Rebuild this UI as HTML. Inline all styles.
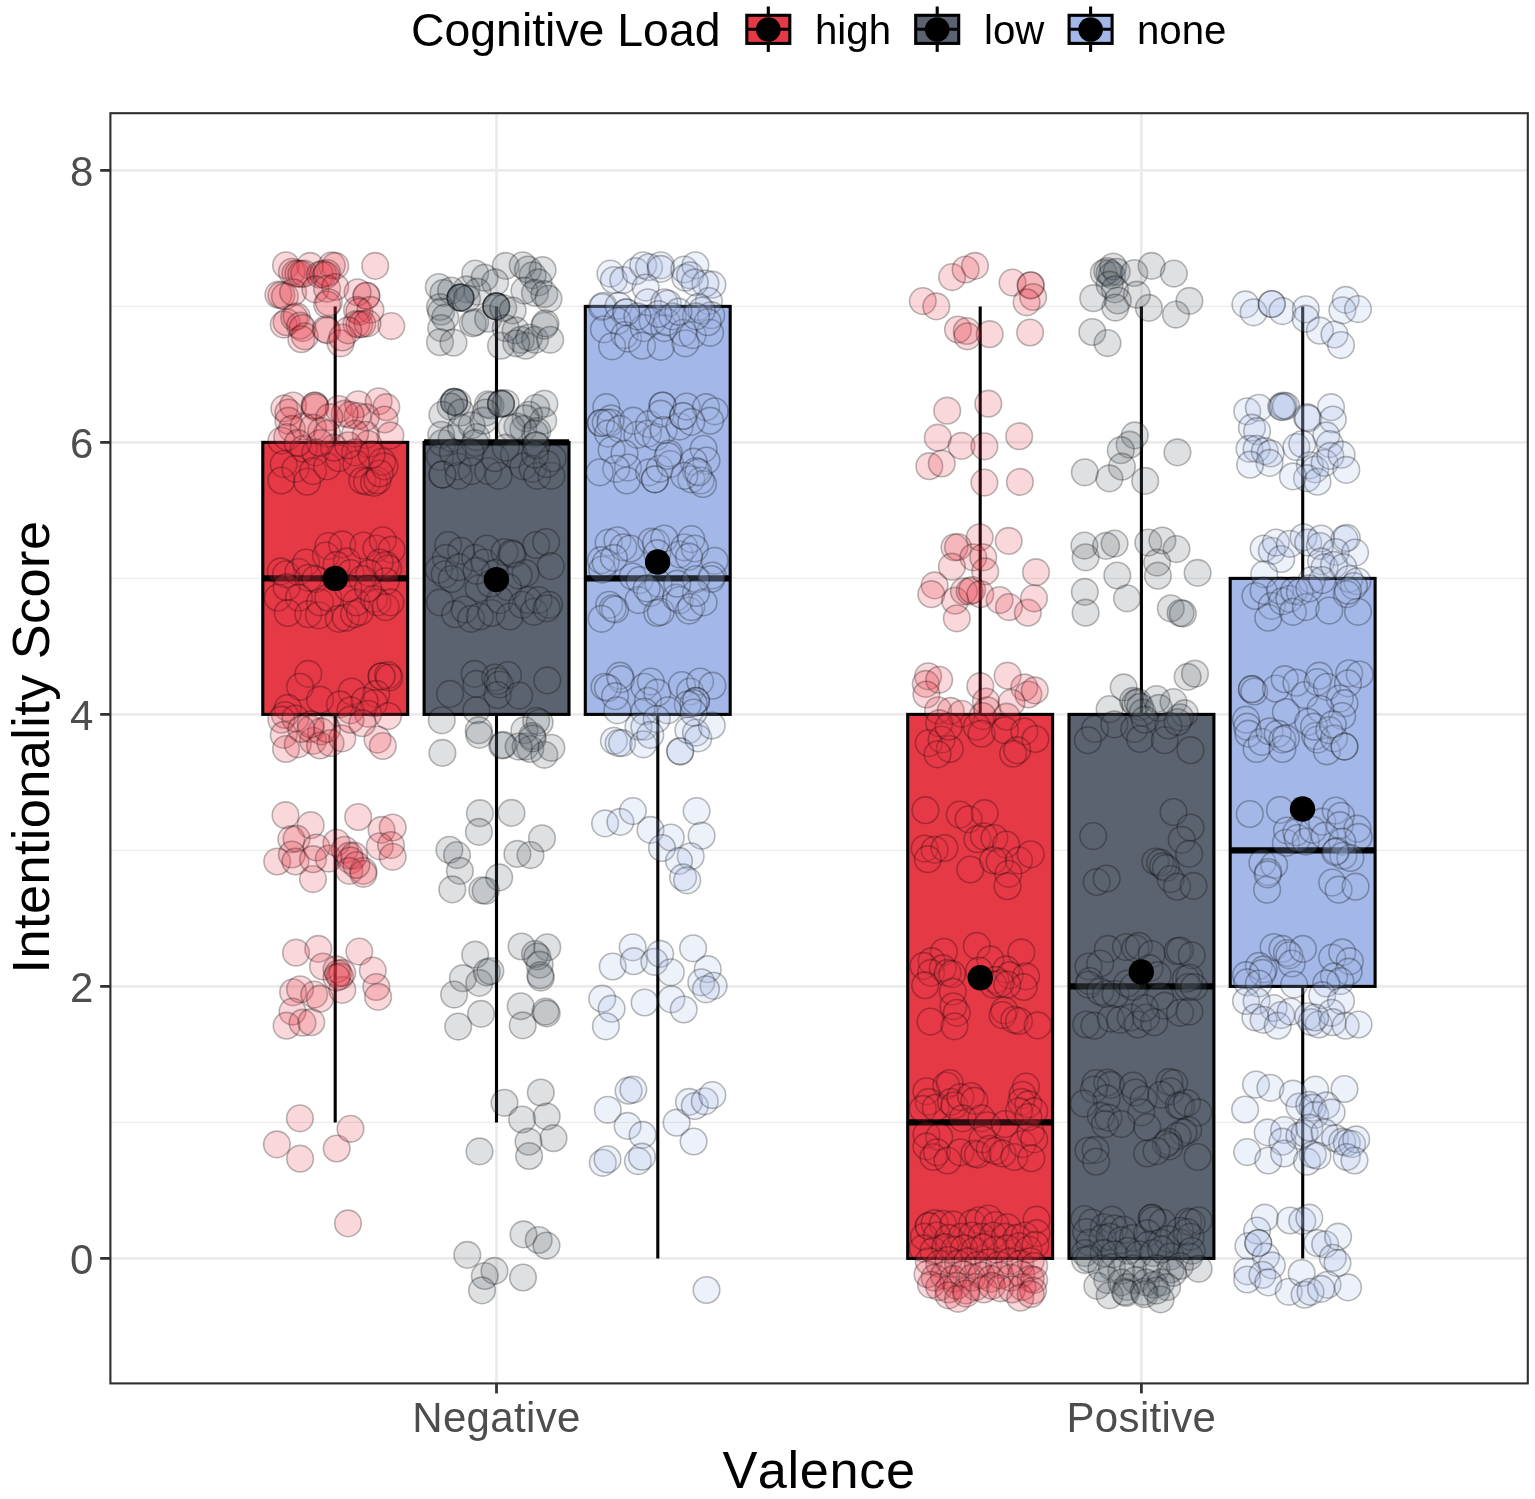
<!DOCTYPE html>
<html lang="en"><head><meta charset="utf-8"><title>Intentionality Score by Valence and Cognitive Load</title>
<style>html,body{margin:0;padding:0;background:#fff}body{width:1535px;height:1499px;overflow:hidden}svg{display:block}text{font-family:"Liberation Sans",Arial,Helvetica,sans-serif;font-kerning:none}.pt{stroke:#000;stroke-width:1.6;stroke-opacity:.27;fill-opacity:.2}.bx{stroke:#000;stroke-width:3.1;stroke-linejoin:miter}.ln{stroke:#000;stroke-width:3.1;fill:none}.md{stroke:#000;stroke-width:6.2;fill:none}.tl{font-size:42px;fill:#4D4D4D;letter-spacing:.35px}.at{font-size:52.3px;fill:#000;letter-spacing:.6px}.lt{font-size:46.4px;fill:#000}.ll{font-size:40.2px;fill:#000}</style></head><body>
<svg width="1535" height="1499" viewBox="0 0 1535 1499">
<rect x="0" y="0" width="1535" height="1499" fill="#fff"/>
<g stroke="#EBEBEB" fill="none">
<line x1="110.4" x2="1527.8" y1="1122.4" y2="1122.4" stroke-width="1.4"/>
<line x1="110.4" x2="1527.8" y1="850.4" y2="850.4" stroke-width="1.4"/>
<line x1="110.4" x2="1527.8" y1="578.4" y2="578.4" stroke-width="1.4"/>
<line x1="110.4" x2="1527.8" y1="306.4" y2="306.4" stroke-width="1.4"/>
<line x1="110.4" x2="1527.8" y1="1258.4" y2="1258.4" stroke-width="2.7"/>
<line x1="110.4" x2="1527.8" y1="986.4" y2="986.4" stroke-width="2.7"/>
<line x1="110.4" x2="1527.8" y1="714.4" y2="714.4" stroke-width="2.7"/>
<line x1="110.4" x2="1527.8" y1="442.4" y2="442.4" stroke-width="2.7"/>
<line x1="110.4" x2="1527.8" y1="170.4" y2="170.4" stroke-width="2.7"/>
<line x1="496.5" x2="496.5" y1="113.2" y2="1383.4" stroke-width="2.7"/>
<line x1="1141.4" x2="1141.4" y1="113.2" y2="1383.4" stroke-width="2.7"/>
</g>
<g>
<line class="ln" x1="335.2" x2="335.2" y1="306.4" y2="442.4"/>
<line class="ln" x1="335.2" x2="335.2" y1="714.4" y2="1122.4"/>
<rect class="bx" x="262.8" y="442.4" width="144.9" height="272.0" fill="#E63946"/>
<line class="md" x1="262.8" x2="407.7" y1="578.4" y2="578.4"/>
<line class="ln" x1="496.5" x2="496.5" y1="306.4" y2="442.4"/>
<line class="ln" x1="496.5" x2="496.5" y1="714.4" y2="1122.4"/>
<rect class="bx" x="424.1" y="442.4" width="144.9" height="272.0" fill="#5B6370"/>
<line class="md" x1="424.1" x2="569.0" y1="442.4" y2="442.4"/>
<line class="ln" x1="657.8" x2="657.8" y1="714.4" y2="1258.4"/>
<rect class="bx" x="585.3" y="306.4" width="144.9" height="408.0" fill="#A3B8E8"/>
<line class="md" x1="585.3" x2="730.2" y1="578.4" y2="578.4"/>
<line class="ln" x1="980.2" x2="980.2" y1="306.4" y2="714.4"/>
<rect class="bx" x="907.7" y="714.4" width="144.9" height="544.0" fill="#E63946"/>
<line class="md" x1="907.7" x2="1052.6" y1="1122.4" y2="1122.4"/>
<line class="ln" x1="1141.4" x2="1141.4" y1="306.4" y2="714.4"/>
<rect class="bx" x="1069.0" y="714.4" width="144.9" height="544.0" fill="#5B6370"/>
<line class="md" x1="1069.0" x2="1213.9" y1="986.4" y2="986.4"/>
<line class="ln" x1="1302.7" x2="1302.7" y1="306.4" y2="578.4"/>
<line class="ln" x1="1302.7" x2="1302.7" y1="986.4" y2="1258.4"/>
<rect class="bx" x="1230.2" y="578.4" width="144.9" height="408.0" fill="#A3B8E8"/>
<line class="md" x1="1230.2" x2="1375.1" y1="850.4" y2="850.4"/>
</g>
<g class="pt" fill="#E63946">
<circle cx="348.0" cy="1223.4" r="13.3"/>
<circle cx="299.9" cy="1118.3" r="13.3"/>
<circle cx="276.9" cy="1144.4" r="13.3"/>
<circle cx="300.1" cy="1158.7" r="13.3"/>
<circle cx="336.7" cy="1148.5" r="13.3"/>
<circle cx="350.5" cy="1128.8" r="13.3"/>
<circle cx="296.0" cy="952.7" r="13.3"/>
<circle cx="318.3" cy="948.9" r="13.3"/>
<circle cx="359.3" cy="951.6" r="13.3"/>
<circle cx="323.0" cy="966.5" r="13.3"/>
<circle cx="372.8" cy="970.6" r="13.3"/>
<circle cx="376.3" cy="987.0" r="13.3"/>
<circle cx="378.1" cy="996.9" r="13.3"/>
<circle cx="293.1" cy="992.3" r="13.3"/>
<circle cx="300.1" cy="989.3" r="13.3"/>
<circle cx="314.2" cy="994.6" r="13.3"/>
<circle cx="320.0" cy="998.7" r="13.3"/>
<circle cx="342.3" cy="989.9" r="13.3"/>
<circle cx="292.5" cy="1011.6" r="13.3"/>
<circle cx="286.6" cy="1025.7" r="13.3"/>
<circle cx="302.5" cy="1022.7" r="13.3"/>
<circle cx="311.3" cy="1022.2" r="13.3"/>
<circle cx="336.5" cy="969.4" r="13.3"/>
<circle cx="338.2" cy="973.5" r="13.3"/>
<circle cx="340.0" cy="976.4" r="13.3"/>
<circle cx="342.3" cy="972.9" r="13.3"/>
<circle cx="336.5" cy="977.6" r="13.3"/>
<circle cx="285.5" cy="815.2" r="13.3"/>
<circle cx="310.7" cy="825.2" r="13.3"/>
<circle cx="358.2" cy="817.0" r="13.3"/>
<circle cx="381.6" cy="829.9" r="13.3"/>
<circle cx="392.7" cy="827.5" r="13.3"/>
<circle cx="379.8" cy="846.3" r="13.3"/>
<circle cx="391.0" cy="845.1" r="13.3"/>
<circle cx="392.7" cy="856.8" r="13.3"/>
<circle cx="291.3" cy="839.2" r="13.3"/>
<circle cx="296.6" cy="838.7" r="13.3"/>
<circle cx="277.2" cy="861.5" r="13.3"/>
<circle cx="291.9" cy="854.5" r="13.3"/>
<circle cx="295.4" cy="861.5" r="13.3"/>
<circle cx="313.0" cy="879.1" r="13.3"/>
<circle cx="316.5" cy="847.5" r="13.3"/>
<circle cx="313.0" cy="859.2" r="13.3"/>
<circle cx="328.8" cy="858.6" r="13.3"/>
<circle cx="336.5" cy="842.8" r="13.3"/>
<circle cx="344.7" cy="849.8" r="13.3"/>
<circle cx="349.4" cy="855.7" r="13.3"/>
<circle cx="354.1" cy="855.7" r="13.3"/>
<circle cx="350.5" cy="860.4" r="13.3"/>
<circle cx="349.4" cy="870.9" r="13.3"/>
<circle cx="363.4" cy="870.9" r="13.3"/>
<circle cx="363.4" cy="873.8" r="13.3"/>
<circle cx="356.4" cy="865.0" r="13.3"/>
<circle cx="308.3" cy="673.9" r="13.3"/>
<circle cx="300.1" cy="686.8" r="13.3"/>
<circle cx="320.0" cy="699.7" r="13.3"/>
<circle cx="287.8" cy="707.9" r="13.3"/>
<circle cx="351.7" cy="691.5" r="13.3"/>
<circle cx="340.0" cy="704.4" r="13.3"/>
<circle cx="381.6" cy="676.3" r="13.3"/>
<circle cx="381.6" cy="676.3" r="13.3"/>
<circle cx="388.1" cy="675.1" r="13.3"/>
<circle cx="389.2" cy="677.5" r="13.3"/>
<circle cx="376.3" cy="693.9" r="13.3"/>
<circle cx="374.0" cy="703.2" r="13.3"/>
<circle cx="364.6" cy="700.9" r="13.3"/>
<circle cx="350.5" cy="710.3" r="13.3"/>
<circle cx="368.1" cy="713.8" r="13.3"/>
<circle cx="388.1" cy="716.1" r="13.3"/>
<circle cx="284.9" cy="715.0" r="13.3"/>
<circle cx="281.4" cy="719.7" r="13.3"/>
<circle cx="295.4" cy="718.5" r="13.3"/>
<circle cx="283.7" cy="734.9" r="13.3"/>
<circle cx="286.0" cy="749.0" r="13.3"/>
<circle cx="297.8" cy="744.3" r="13.3"/>
<circle cx="310.7" cy="729.0" r="13.3"/>
<circle cx="313.0" cy="740.8" r="13.3"/>
<circle cx="321.2" cy="731.4" r="13.3"/>
<circle cx="320.0" cy="745.5" r="13.3"/>
<circle cx="327.1" cy="729.0" r="13.3"/>
<circle cx="330.6" cy="743.1" r="13.3"/>
<circle cx="342.3" cy="738.4" r="13.3"/>
<circle cx="350.5" cy="719.7" r="13.3"/>
<circle cx="362.3" cy="723.2" r="13.3"/>
<circle cx="377.5" cy="739.6" r="13.3"/>
<circle cx="382.8" cy="746.0" r="13.3"/>
<circle cx="310.7" cy="724.4" r="13.3"/>
<circle cx="301.3" cy="729.0" r="13.3"/>
<circle cx="280.8" cy="571.4" r="13.3"/>
<circle cx="286.0" cy="574.3" r="13.3"/>
<circle cx="298.4" cy="571.9" r="13.3"/>
<circle cx="306.0" cy="562.6" r="13.3"/>
<circle cx="308.3" cy="577.8" r="13.3"/>
<circle cx="315.4" cy="579.0" r="13.3"/>
<circle cx="328.3" cy="546.1" r="13.3"/>
<circle cx="325.9" cy="555.5" r="13.3"/>
<circle cx="342.3" cy="544.4" r="13.3"/>
<circle cx="347.0" cy="561.4" r="13.3"/>
<circle cx="336.5" cy="564.9" r="13.3"/>
<circle cx="350.5" cy="573.1" r="13.3"/>
<circle cx="363.4" cy="545.6" r="13.3"/>
<circle cx="376.3" cy="548.5" r="13.3"/>
<circle cx="382.8" cy="540.3" r="13.3"/>
<circle cx="391.6" cy="549.7" r="13.3"/>
<circle cx="385.7" cy="564.9" r="13.3"/>
<circle cx="388.1" cy="568.4" r="13.3"/>
<circle cx="379.8" cy="562.6" r="13.3"/>
<circle cx="385.7" cy="581.3" r="13.3"/>
<circle cx="369.3" cy="573.1" r="13.3"/>
<circle cx="362.3" cy="579.0" r="13.3"/>
<circle cx="277.8" cy="597.7" r="13.3"/>
<circle cx="286.6" cy="587.2" r="13.3"/>
<circle cx="298.9" cy="597.7" r="13.3"/>
<circle cx="287.8" cy="613.0" r="13.3"/>
<circle cx="308.3" cy="614.2" r="13.3"/>
<circle cx="318.9" cy="615.3" r="13.3"/>
<circle cx="320.0" cy="602.4" r="13.3"/>
<circle cx="328.3" cy="597.7" r="13.3"/>
<circle cx="338.8" cy="618.8" r="13.3"/>
<circle cx="345.8" cy="617.7" r="13.3"/>
<circle cx="354.1" cy="614.2" r="13.3"/>
<circle cx="359.9" cy="611.8" r="13.3"/>
<circle cx="356.4" cy="602.4" r="13.3"/>
<circle cx="374.0" cy="598.9" r="13.3"/>
<circle cx="377.5" cy="602.4" r="13.3"/>
<circle cx="385.7" cy="607.1" r="13.3"/>
<circle cx="390.4" cy="602.4" r="13.3"/>
<circle cx="348.2" cy="588.4" r="13.3"/>
<circle cx="368.1" cy="588.4" r="13.3"/>
<circle cx="284.3" cy="408.4" r="13.3"/>
<circle cx="293.1" cy="405.5" r="13.3"/>
<circle cx="288.4" cy="412.5" r="13.3"/>
<circle cx="314.8" cy="405.5" r="13.3"/>
<circle cx="314.8" cy="405.5" r="13.3"/>
<circle cx="315.4" cy="407.2" r="13.3"/>
<circle cx="338.8" cy="409.0" r="13.3"/>
<circle cx="358.2" cy="404.3" r="13.3"/>
<circle cx="378.7" cy="401.3" r="13.3"/>
<circle cx="386.3" cy="407.2" r="13.3"/>
<circle cx="384.5" cy="419.5" r="13.3"/>
<circle cx="390.4" cy="435.4" r="13.3"/>
<circle cx="365.8" cy="417.2" r="13.3"/>
<circle cx="357.6" cy="416.0" r="13.3"/>
<circle cx="350.5" cy="414.8" r="13.3"/>
<circle cx="344.7" cy="413.7" r="13.3"/>
<circle cx="288.4" cy="420.7" r="13.3"/>
<circle cx="291.9" cy="428.9" r="13.3"/>
<circle cx="281.4" cy="440.6" r="13.3"/>
<circle cx="287.2" cy="437.1" r="13.3"/>
<circle cx="303.6" cy="426.6" r="13.3"/>
<circle cx="313.0" cy="427.7" r="13.3"/>
<circle cx="321.2" cy="431.2" r="13.3"/>
<circle cx="329.4" cy="417.2" r="13.3"/>
<circle cx="327.1" cy="433.6" r="13.3"/>
<circle cx="365.8" cy="434.8" r="13.3"/>
<circle cx="368.1" cy="444.1" r="13.3"/>
<circle cx="355.2" cy="433.6" r="13.3"/>
<circle cx="283.7" cy="464.1" r="13.3"/>
<circle cx="281.4" cy="480.5" r="13.3"/>
<circle cx="295.4" cy="468.8" r="13.3"/>
<circle cx="303.6" cy="448.8" r="13.3"/>
<circle cx="315.4" cy="452.4" r="13.3"/>
<circle cx="307.1" cy="481.7" r="13.3"/>
<circle cx="313.0" cy="471.1" r="13.3"/>
<circle cx="327.1" cy="466.4" r="13.3"/>
<circle cx="338.8" cy="458.2" r="13.3"/>
<circle cx="334.1" cy="447.7" r="13.3"/>
<circle cx="355.2" cy="452.4" r="13.3"/>
<circle cx="356.4" cy="464.1" r="13.3"/>
<circle cx="362.3" cy="480.5" r="13.3"/>
<circle cx="367.0" cy="481.7" r="13.3"/>
<circle cx="374.0" cy="482.8" r="13.3"/>
<circle cx="377.5" cy="480.5" r="13.3"/>
<circle cx="382.2" cy="461.7" r="13.3"/>
<circle cx="384.5" cy="466.4" r="13.3"/>
<circle cx="379.8" cy="473.5" r="13.3"/>
<circle cx="371.6" cy="454.7" r="13.3"/>
<circle cx="348.2" cy="445.3" r="13.3"/>
<circle cx="320.0" cy="443.0" r="13.3"/>
<circle cx="297.8" cy="443.0" r="13.3"/>
<circle cx="375.2" cy="265.9" r="13.3"/>
<circle cx="391.3" cy="326.1" r="13.3"/>
<circle cx="366.4" cy="295.8" r="13.3"/>
<circle cx="366.4" cy="295.8" r="13.3"/>
<circle cx="286.0" cy="265.3" r="13.3"/>
<circle cx="310.1" cy="265.9" r="13.3"/>
<circle cx="331.8" cy="265.3" r="13.3"/>
<circle cx="335.3" cy="265.9" r="13.3"/>
<circle cx="291.9" cy="271.8" r="13.3"/>
<circle cx="295.4" cy="273.6" r="13.3"/>
<circle cx="298.4" cy="273.6" r="13.3"/>
<circle cx="301.3" cy="274.1" r="13.3"/>
<circle cx="304.2" cy="273.6" r="13.3"/>
<circle cx="320.0" cy="274.7" r="13.3"/>
<circle cx="323.0" cy="274.1" r="13.3"/>
<circle cx="325.9" cy="275.3" r="13.3"/>
<circle cx="327.1" cy="273.0" r="13.3"/>
<circle cx="278.4" cy="294.7" r="13.3"/>
<circle cx="281.4" cy="295.2" r="13.3"/>
<circle cx="284.9" cy="296.4" r="13.3"/>
<circle cx="293.1" cy="292.3" r="13.3"/>
<circle cx="315.4" cy="289.4" r="13.3"/>
<circle cx="327.1" cy="288.8" r="13.3"/>
<circle cx="335.3" cy="287.0" r="13.3"/>
<circle cx="357.6" cy="292.3" r="13.3"/>
<circle cx="327.1" cy="304.6" r="13.3"/>
<circle cx="328.8" cy="302.3" r="13.3"/>
<circle cx="357.0" cy="309.9" r="13.3"/>
<circle cx="359.3" cy="311.7" r="13.3"/>
<circle cx="370.5" cy="309.9" r="13.3"/>
<circle cx="356.4" cy="324.0" r="13.3"/>
<circle cx="359.3" cy="324.6" r="13.3"/>
<circle cx="362.3" cy="324.0" r="13.3"/>
<circle cx="367.5" cy="323.4" r="13.3"/>
<circle cx="283.7" cy="324.6" r="13.3"/>
<circle cx="286.6" cy="322.2" r="13.3"/>
<circle cx="294.2" cy="317.5" r="13.3"/>
<circle cx="296.6" cy="316.4" r="13.3"/>
<circle cx="300.1" cy="325.7" r="13.3"/>
<circle cx="302.5" cy="328.1" r="13.3"/>
<circle cx="301.3" cy="339.2" r="13.3"/>
<circle cx="304.8" cy="336.3" r="13.3"/>
<circle cx="325.9" cy="329.3" r="13.3"/>
<circle cx="327.1" cy="330.4" r="13.3"/>
<circle cx="340.6" cy="343.3" r="13.3"/>
<circle cx="342.3" cy="337.5" r="13.3"/>
<circle cx="348.2" cy="330.4" r="13.3"/>
<circle cx="928.7" cy="1226.1" r="13.3"/>
<circle cx="928.7" cy="1226.1" r="13.3"/>
<circle cx="934.6" cy="1223.2" r="13.3"/>
<circle cx="942.8" cy="1223.8" r="13.3"/>
<circle cx="953.3" cy="1224.4" r="13.3"/>
<circle cx="972.1" cy="1223.2" r="13.3"/>
<circle cx="979.1" cy="1220.3" r="13.3"/>
<circle cx="988.5" cy="1218.5" r="13.3"/>
<circle cx="995.5" cy="1225.0" r="13.3"/>
<circle cx="1007.3" cy="1227.3" r="13.3"/>
<circle cx="1036.6" cy="1219.7" r="13.3"/>
<circle cx="924.0" cy="1236.7" r="13.3"/>
<circle cx="936.9" cy="1235.5" r="13.3"/>
<circle cx="948.6" cy="1237.9" r="13.3"/>
<circle cx="961.5" cy="1236.7" r="13.3"/>
<circle cx="972.1" cy="1235.5" r="13.3"/>
<circle cx="981.5" cy="1236.7" r="13.3"/>
<circle cx="993.2" cy="1235.5" r="13.3"/>
<circle cx="1004.9" cy="1236.7" r="13.3"/>
<circle cx="1016.6" cy="1237.9" r="13.3"/>
<circle cx="1024.8" cy="1235.5" r="13.3"/>
<circle cx="1036.6" cy="1233.2" r="13.3"/>
<circle cx="922.8" cy="1248.4" r="13.3"/>
<circle cx="933.4" cy="1250.8" r="13.3"/>
<circle cx="945.1" cy="1247.2" r="13.3"/>
<circle cx="954.5" cy="1249.6" r="13.3"/>
<circle cx="963.9" cy="1248.4" r="13.3"/>
<circle cx="974.4" cy="1250.8" r="13.3"/>
<circle cx="983.8" cy="1247.2" r="13.3"/>
<circle cx="995.5" cy="1249.6" r="13.3"/>
<circle cx="1007.3" cy="1248.4" r="13.3"/>
<circle cx="1019.0" cy="1246.1" r="13.3"/>
<circle cx="1028.4" cy="1249.6" r="13.3"/>
<circle cx="1035.4" cy="1244.9" r="13.3"/>
<circle cx="928.7" cy="1261.3" r="13.3"/>
<circle cx="939.2" cy="1263.7" r="13.3"/>
<circle cx="948.6" cy="1260.1" r="13.3"/>
<circle cx="958.0" cy="1263.7" r="13.3"/>
<circle cx="967.4" cy="1261.3" r="13.3"/>
<circle cx="977.9" cy="1264.8" r="13.3"/>
<circle cx="988.5" cy="1262.5" r="13.3"/>
<circle cx="999.1" cy="1264.8" r="13.3"/>
<circle cx="1009.6" cy="1261.3" r="13.3"/>
<circle cx="1020.2" cy="1263.7" r="13.3"/>
<circle cx="1030.7" cy="1261.3" r="13.3"/>
<circle cx="1034.2" cy="1266.0" r="13.3"/>
<circle cx="927.5" cy="1274.2" r="13.3"/>
<circle cx="934.6" cy="1277.7" r="13.3"/>
<circle cx="943.9" cy="1275.4" r="13.3"/>
<circle cx="953.3" cy="1278.9" r="13.3"/>
<circle cx="962.7" cy="1274.2" r="13.3"/>
<circle cx="972.1" cy="1277.7" r="13.3"/>
<circle cx="981.5" cy="1275.4" r="13.3"/>
<circle cx="990.8" cy="1278.9" r="13.3"/>
<circle cx="1000.2" cy="1275.4" r="13.3"/>
<circle cx="1010.8" cy="1277.7" r="13.3"/>
<circle cx="1021.3" cy="1274.2" r="13.3"/>
<circle cx="1030.7" cy="1278.9" r="13.3"/>
<circle cx="1034.2" cy="1280.1" r="13.3"/>
<circle cx="931.0" cy="1284.8" r="13.3"/>
<circle cx="939.2" cy="1287.1" r="13.3"/>
<circle cx="948.6" cy="1289.5" r="13.3"/>
<circle cx="956.8" cy="1285.9" r="13.3"/>
<circle cx="966.2" cy="1290.6" r="13.3"/>
<circle cx="975.6" cy="1287.1" r="13.3"/>
<circle cx="983.8" cy="1289.5" r="13.3"/>
<circle cx="992.0" cy="1285.9" r="13.3"/>
<circle cx="1000.2" cy="1288.3" r="13.3"/>
<circle cx="1012.0" cy="1289.5" r="13.3"/>
<circle cx="1022.5" cy="1287.1" r="13.3"/>
<circle cx="1033.1" cy="1290.6" r="13.3"/>
<circle cx="948.6" cy="1295.3" r="13.3"/>
<circle cx="958.0" cy="1298.8" r="13.3"/>
<circle cx="966.2" cy="1293.6" r="13.3"/>
<circle cx="1020.2" cy="1297.7" r="13.3"/>
<circle cx="1030.7" cy="1294.2" r="13.3"/>
<circle cx="926.4" cy="1091.3" r="13.3"/>
<circle cx="946.3" cy="1085.5" r="13.3"/>
<circle cx="949.8" cy="1083.1" r="13.3"/>
<circle cx="928.7" cy="1101.9" r="13.3"/>
<circle cx="922.8" cy="1108.9" r="13.3"/>
<circle cx="935.7" cy="1107.7" r="13.3"/>
<circle cx="951.0" cy="1101.9" r="13.3"/>
<circle cx="954.5" cy="1105.4" r="13.3"/>
<circle cx="960.4" cy="1097.2" r="13.3"/>
<circle cx="970.9" cy="1096.0" r="13.3"/>
<circle cx="974.4" cy="1100.7" r="13.3"/>
<circle cx="962.7" cy="1118.3" r="13.3"/>
<circle cx="981.5" cy="1118.3" r="13.3"/>
<circle cx="987.3" cy="1125.3" r="13.3"/>
<circle cx="926.4" cy="1134.7" r="13.3"/>
<circle cx="939.2" cy="1137.0" r="13.3"/>
<circle cx="926.4" cy="1146.4" r="13.3"/>
<circle cx="933.4" cy="1157.0" r="13.3"/>
<circle cx="936.9" cy="1152.3" r="13.3"/>
<circle cx="947.5" cy="1160.5" r="13.3"/>
<circle cx="960.4" cy="1152.3" r="13.3"/>
<circle cx="974.4" cy="1153.5" r="13.3"/>
<circle cx="977.9" cy="1154.6" r="13.3"/>
<circle cx="982.6" cy="1139.4" r="13.3"/>
<circle cx="989.7" cy="1148.8" r="13.3"/>
<circle cx="995.5" cy="1151.1" r="13.3"/>
<circle cx="1004.9" cy="1124.1" r="13.3"/>
<circle cx="1002.6" cy="1153.5" r="13.3"/>
<circle cx="1014.3" cy="1157.0" r="13.3"/>
<circle cx="1022.5" cy="1144.1" r="13.3"/>
<circle cx="1030.7" cy="1132.4" r="13.3"/>
<circle cx="1034.2" cy="1139.4" r="13.3"/>
<circle cx="1031.3" cy="1158.2" r="13.3"/>
<circle cx="1026.0" cy="1086.6" r="13.3"/>
<circle cx="1022.5" cy="1094.8" r="13.3"/>
<circle cx="1021.3" cy="1101.9" r="13.3"/>
<circle cx="1028.4" cy="1104.2" r="13.3"/>
<circle cx="1034.2" cy="1111.2" r="13.3"/>
<circle cx="1019.0" cy="1111.2" r="13.3"/>
<circle cx="1028.4" cy="1117.1" r="13.3"/>
<circle cx="943.9" cy="951.8" r="13.3"/>
<circle cx="931.6" cy="961.2" r="13.3"/>
<circle cx="923.4" cy="965.9" r="13.3"/>
<circle cx="931.0" cy="972.9" r="13.3"/>
<circle cx="942.8" cy="968.2" r="13.3"/>
<circle cx="947.5" cy="972.9" r="13.3"/>
<circle cx="952.1" cy="974.1" r="13.3"/>
<circle cx="925.2" cy="985.2" r="13.3"/>
<circle cx="952.7" cy="991.7" r="13.3"/>
<circle cx="976.8" cy="945.9" r="13.3"/>
<circle cx="990.3" cy="959.4" r="13.3"/>
<circle cx="979.1" cy="970.6" r="13.3"/>
<circle cx="1021.3" cy="952.4" r="13.3"/>
<circle cx="1006.1" cy="969.4" r="13.3"/>
<circle cx="1009.6" cy="975.2" r="13.3"/>
<circle cx="1026.0" cy="976.4" r="13.3"/>
<circle cx="1023.7" cy="987.0" r="13.3"/>
<circle cx="995.5" cy="979.9" r="13.3"/>
<circle cx="993.2" cy="984.6" r="13.3"/>
<circle cx="1000.2" cy="983.5" r="13.3"/>
<circle cx="1007.3" cy="984.6" r="13.3"/>
<circle cx="953.3" cy="1006.3" r="13.3"/>
<circle cx="956.8" cy="1012.8" r="13.3"/>
<circle cx="930.5" cy="1021.6" r="13.3"/>
<circle cx="954.5" cy="1026.3" r="13.3"/>
<circle cx="1004.3" cy="1010.4" r="13.3"/>
<circle cx="1002.6" cy="1015.1" r="13.3"/>
<circle cx="1014.3" cy="1019.8" r="13.3"/>
<circle cx="1019.0" cy="1021.0" r="13.3"/>
<circle cx="1037.7" cy="1025.4" r="13.3"/>
<circle cx="925.4" cy="810.2" r="13.3"/>
<circle cx="959.8" cy="814.6" r="13.3"/>
<circle cx="968.6" cy="819.3" r="13.3"/>
<circle cx="984.7" cy="813.2" r="13.3"/>
<circle cx="977.4" cy="839.2" r="13.3"/>
<circle cx="983.8" cy="836.3" r="13.3"/>
<circle cx="994.4" cy="838.1" r="13.3"/>
<circle cx="1006.1" cy="844.5" r="13.3"/>
<circle cx="924.6" cy="848.6" r="13.3"/>
<circle cx="934.6" cy="849.8" r="13.3"/>
<circle cx="944.5" cy="848.0" r="13.3"/>
<circle cx="927.8" cy="859.2" r="13.3"/>
<circle cx="970.3" cy="869.5" r="13.3"/>
<circle cx="993.2" cy="860.4" r="13.3"/>
<circle cx="999.6" cy="861.5" r="13.3"/>
<circle cx="1019.0" cy="860.4" r="13.3"/>
<circle cx="1030.7" cy="854.3" r="13.3"/>
<circle cx="1008.4" cy="873.8" r="13.3"/>
<circle cx="1007.5" cy="886.2" r="13.3"/>
<circle cx="928.1" cy="676.3" r="13.3"/>
<circle cx="925.8" cy="683.9" r="13.3"/>
<circle cx="939.2" cy="679.8" r="13.3"/>
<circle cx="926.4" cy="694.5" r="13.3"/>
<circle cx="980.3" cy="686.2" r="13.3"/>
<circle cx="1007.6" cy="675.7" r="13.3"/>
<circle cx="1024.3" cy="687.4" r="13.3"/>
<circle cx="1028.4" cy="694.5" r="13.3"/>
<circle cx="1034.8" cy="690.4" r="13.3"/>
<circle cx="985.9" cy="701.5" r="13.3"/>
<circle cx="1011.4" cy="702.7" r="13.3"/>
<circle cx="938.1" cy="710.3" r="13.3"/>
<circle cx="950.7" cy="710.9" r="13.3"/>
<circle cx="961.5" cy="713.8" r="13.3"/>
<circle cx="987.3" cy="710.3" r="13.3"/>
<circle cx="1006.7" cy="716.7" r="13.3"/>
<circle cx="982.6" cy="716.1" r="13.3"/>
<circle cx="939.2" cy="723.2" r="13.3"/>
<circle cx="928.7" cy="743.1" r="13.3"/>
<circle cx="941.6" cy="739.6" r="13.3"/>
<circle cx="949.8" cy="749.0" r="13.3"/>
<circle cx="937.5" cy="754.3" r="13.3"/>
<circle cx="948.6" cy="726.7" r="13.3"/>
<circle cx="976.8" cy="726.7" r="13.3"/>
<circle cx="981.5" cy="733.7" r="13.3"/>
<circle cx="1004.9" cy="730.2" r="13.3"/>
<circle cx="1024.3" cy="731.4" r="13.3"/>
<circle cx="1035.4" cy="739.0" r="13.3"/>
<circle cx="1013.1" cy="753.7" r="13.3"/>
<circle cx="1017.2" cy="750.2" r="13.3"/>
<circle cx="979.7" cy="537.3" r="13.3"/>
<circle cx="1008.7" cy="540.9" r="13.3"/>
<circle cx="954.5" cy="547.3" r="13.3"/>
<circle cx="958.0" cy="547.1" r="13.3"/>
<circle cx="973.3" cy="557.3" r="13.3"/>
<circle cx="983.2" cy="557.3" r="13.3"/>
<circle cx="951.9" cy="566.7" r="13.3"/>
<circle cx="985.2" cy="571.4" r="13.3"/>
<circle cx="1036.0" cy="572.2" r="13.3"/>
<circle cx="934.6" cy="585.4" r="13.3"/>
<circle cx="931.3" cy="594.2" r="13.3"/>
<circle cx="955.1" cy="600.7" r="13.3"/>
<circle cx="963.9" cy="591.3" r="13.3"/>
<circle cx="969.7" cy="591.3" r="13.3"/>
<circle cx="972.1" cy="590.1" r="13.3"/>
<circle cx="980.3" cy="594.2" r="13.3"/>
<circle cx="999.6" cy="600.1" r="13.3"/>
<circle cx="1009.0" cy="607.1" r="13.3"/>
<circle cx="956.8" cy="618.3" r="13.3"/>
<circle cx="1027.8" cy="612.7" r="13.3"/>
<circle cx="1034.0" cy="598.3" r="13.3"/>
<circle cx="947.2" cy="410.7" r="13.3"/>
<circle cx="988.3" cy="403.7" r="13.3"/>
<circle cx="937.8" cy="437.7" r="13.3"/>
<circle cx="961.5" cy="445.9" r="13.3"/>
<circle cx="984.4" cy="446.3" r="13.3"/>
<circle cx="1019.2" cy="436.2" r="13.3"/>
<circle cx="929.3" cy="466.2" r="13.3"/>
<circle cx="941.8" cy="463.5" r="13.3"/>
<circle cx="984.4" cy="482.6" r="13.3"/>
<circle cx="1019.9" cy="481.9" r="13.3"/>
<circle cx="952.1" cy="277.1" r="13.3"/>
<circle cx="965.6" cy="269.5" r="13.3"/>
<circle cx="975.0" cy="265.9" r="13.3"/>
<circle cx="922.8" cy="301.1" r="13.3"/>
<circle cx="936.3" cy="306.4" r="13.3"/>
<circle cx="1012.5" cy="282.6" r="13.3"/>
<circle cx="1030.7" cy="285.3" r="13.3"/>
<circle cx="1030.7" cy="285.3" r="13.3"/>
<circle cx="1033.1" cy="297.0" r="13.3"/>
<circle cx="1026.6" cy="302.3" r="13.3"/>
<circle cx="958.0" cy="329.5" r="13.3"/>
<circle cx="966.8" cy="331.0" r="13.3"/>
<circle cx="967.4" cy="336.3" r="13.3"/>
<circle cx="989.7" cy="334.2" r="13.3"/>
<circle cx="1030.1" cy="332.5" r="13.3"/>
</g>
<g class="pt" fill="#5B6370">
<circle cx="467.3" cy="1254.9" r="13.3"/>
<circle cx="484.8" cy="1276.0" r="13.3"/>
<circle cx="494.5" cy="1270.9" r="13.3"/>
<circle cx="482.0" cy="1290.4" r="13.3"/>
<circle cx="523.5" cy="1234.4" r="13.3"/>
<circle cx="538.7" cy="1240.0" r="13.3"/>
<circle cx="546.5" cy="1245.6" r="13.3"/>
<circle cx="523.0" cy="1277.5" r="13.3"/>
<circle cx="504.5" cy="1102.8" r="13.3"/>
<circle cx="540.8" cy="1092.5" r="13.3"/>
<circle cx="522.1" cy="1119.5" r="13.3"/>
<circle cx="546.7" cy="1116.5" r="13.3"/>
<circle cx="528.5" cy="1141.7" r="13.3"/>
<circle cx="553.5" cy="1138.2" r="13.3"/>
<circle cx="529.1" cy="1156.0" r="13.3"/>
<circle cx="479.5" cy="1151.4" r="13.3"/>
<circle cx="475.2" cy="954.7" r="13.3"/>
<circle cx="462.9" cy="978.2" r="13.3"/>
<circle cx="454.1" cy="994.6" r="13.3"/>
<circle cx="479.3" cy="982.9" r="13.3"/>
<circle cx="486.9" cy="972.3" r="13.3"/>
<circle cx="490.4" cy="971.1" r="13.3"/>
<circle cx="481.0" cy="1013.9" r="13.3"/>
<circle cx="458.2" cy="1026.6" r="13.3"/>
<circle cx="521.5" cy="946.5" r="13.3"/>
<circle cx="547.3" cy="947.3" r="13.3"/>
<circle cx="535.0" cy="954.1" r="13.3"/>
<circle cx="537.3" cy="956.5" r="13.3"/>
<circle cx="539.7" cy="964.7" r="13.3"/>
<circle cx="540.8" cy="977.6" r="13.3"/>
<circle cx="540.3" cy="975.2" r="13.3"/>
<circle cx="520.7" cy="1006.3" r="13.3"/>
<circle cx="522.7" cy="1025.4" r="13.3"/>
<circle cx="545.5" cy="1011.6" r="13.3"/>
<circle cx="546.7" cy="1013.4" r="13.3"/>
<circle cx="479.9" cy="813.2" r="13.3"/>
<circle cx="511.5" cy="812.9" r="13.3"/>
<circle cx="478.9" cy="831.9" r="13.3"/>
<circle cx="542.0" cy="838.3" r="13.3"/>
<circle cx="517.4" cy="853.9" r="13.3"/>
<circle cx="530.5" cy="855.1" r="13.3"/>
<circle cx="449.4" cy="849.8" r="13.3"/>
<circle cx="457.0" cy="855.1" r="13.3"/>
<circle cx="459.9" cy="870.9" r="13.3"/>
<circle cx="452.3" cy="889.4" r="13.3"/>
<circle cx="499.2" cy="877.4" r="13.3"/>
<circle cx="482.2" cy="890.3" r="13.3"/>
<circle cx="485.7" cy="890.8" r="13.3"/>
<circle cx="474.6" cy="673.9" r="13.3"/>
<circle cx="476.4" cy="683.9" r="13.3"/>
<circle cx="495.1" cy="677.5" r="13.3"/>
<circle cx="497.5" cy="681.0" r="13.3"/>
<circle cx="499.8" cy="684.5" r="13.3"/>
<circle cx="508.0" cy="675.1" r="13.3"/>
<circle cx="497.5" cy="695.0" r="13.3"/>
<circle cx="519.2" cy="695.6" r="13.3"/>
<circle cx="547.3" cy="680.4" r="13.3"/>
<circle cx="450.0" cy="693.9" r="13.3"/>
<circle cx="476.4" cy="710.3" r="13.3"/>
<circle cx="441.8" cy="720.3" r="13.3"/>
<circle cx="442.4" cy="752.9" r="13.3"/>
<circle cx="478.7" cy="730.2" r="13.3"/>
<circle cx="479.3" cy="734.9" r="13.3"/>
<circle cx="502.2" cy="745.5" r="13.3"/>
<circle cx="503.3" cy="744.9" r="13.3"/>
<circle cx="524.4" cy="730.2" r="13.3"/>
<circle cx="536.2" cy="720.8" r="13.3"/>
<circle cx="539.7" cy="722.6" r="13.3"/>
<circle cx="532.1" cy="736.1" r="13.3"/>
<circle cx="525.6" cy="746.6" r="13.3"/>
<circle cx="530.3" cy="749.0" r="13.3"/>
<circle cx="544.4" cy="754.8" r="13.3"/>
<circle cx="551.4" cy="747.8" r="13.3"/>
<circle cx="532.6" cy="738.4" r="13.3"/>
<circle cx="518.6" cy="746.6" r="13.3"/>
<circle cx="448.2" cy="545.0" r="13.3"/>
<circle cx="461.1" cy="550.8" r="13.3"/>
<circle cx="445.9" cy="557.9" r="13.3"/>
<circle cx="438.8" cy="569.6" r="13.3"/>
<circle cx="444.7" cy="574.3" r="13.3"/>
<circle cx="451.7" cy="579.0" r="13.3"/>
<circle cx="458.8" cy="567.2" r="13.3"/>
<circle cx="475.2" cy="557.9" r="13.3"/>
<circle cx="486.9" cy="548.5" r="13.3"/>
<circle cx="484.6" cy="562.6" r="13.3"/>
<circle cx="504.5" cy="552.0" r="13.3"/>
<circle cx="512.7" cy="554.4" r="13.3"/>
<circle cx="511.5" cy="553.2" r="13.3"/>
<circle cx="536.2" cy="545.0" r="13.3"/>
<circle cx="546.1" cy="542.0" r="13.3"/>
<circle cx="550.8" cy="566.1" r="13.3"/>
<circle cx="525.6" cy="573.1" r="13.3"/>
<circle cx="518.6" cy="575.5" r="13.3"/>
<circle cx="508.0" cy="587.2" r="13.3"/>
<circle cx="495.1" cy="573.1" r="13.3"/>
<circle cx="440.0" cy="602.4" r="13.3"/>
<circle cx="455.2" cy="614.2" r="13.3"/>
<circle cx="464.6" cy="609.5" r="13.3"/>
<circle cx="471.1" cy="618.8" r="13.3"/>
<circle cx="479.9" cy="616.5" r="13.3"/>
<circle cx="491.6" cy="613.0" r="13.3"/>
<circle cx="478.7" cy="588.4" r="13.3"/>
<circle cx="499.8" cy="600.1" r="13.3"/>
<circle cx="509.8" cy="616.5" r="13.3"/>
<circle cx="522.1" cy="604.8" r="13.3"/>
<circle cx="528.0" cy="600.1" r="13.3"/>
<circle cx="533.8" cy="611.8" r="13.3"/>
<circle cx="538.5" cy="600.1" r="13.3"/>
<circle cx="549.1" cy="604.8" r="13.3"/>
<circle cx="546.7" cy="608.3" r="13.3"/>
<circle cx="490.4" cy="583.7" r="13.3"/>
<circle cx="476.4" cy="570.8" r="13.3"/>
<circle cx="454.1" cy="401.9" r="13.3"/>
<circle cx="454.1" cy="401.9" r="13.3"/>
<circle cx="454.1" cy="401.9" r="13.3"/>
<circle cx="457.6" cy="403.1" r="13.3"/>
<circle cx="450.6" cy="406.6" r="13.3"/>
<circle cx="442.4" cy="414.8" r="13.3"/>
<circle cx="461.1" cy="412.5" r="13.3"/>
<circle cx="488.1" cy="404.3" r="13.3"/>
<circle cx="490.4" cy="405.5" r="13.3"/>
<circle cx="501.0" cy="403.7" r="13.3"/>
<circle cx="501.0" cy="403.7" r="13.3"/>
<circle cx="501.0" cy="403.7" r="13.3"/>
<circle cx="505.7" cy="403.1" r="13.3"/>
<circle cx="485.7" cy="412.5" r="13.3"/>
<circle cx="544.4" cy="403.7" r="13.3"/>
<circle cx="536.2" cy="407.8" r="13.3"/>
<circle cx="529.1" cy="414.8" r="13.3"/>
<circle cx="543.2" cy="420.7" r="13.3"/>
<circle cx="525.6" cy="418.4" r="13.3"/>
<circle cx="523.3" cy="428.9" r="13.3"/>
<circle cx="535.0" cy="433.6" r="13.3"/>
<circle cx="536.2" cy="445.3" r="13.3"/>
<circle cx="536.2" cy="445.3" r="13.3"/>
<circle cx="517.4" cy="426.6" r="13.3"/>
<circle cx="511.5" cy="427.7" r="13.3"/>
<circle cx="441.2" cy="434.8" r="13.3"/>
<circle cx="442.4" cy="443.0" r="13.3"/>
<circle cx="451.7" cy="438.3" r="13.3"/>
<circle cx="461.1" cy="427.7" r="13.3"/>
<circle cx="471.7" cy="425.4" r="13.3"/>
<circle cx="476.4" cy="437.1" r="13.3"/>
<circle cx="483.4" cy="420.7" r="13.3"/>
<circle cx="475.2" cy="443.0" r="13.3"/>
<circle cx="537.3" cy="431.2" r="13.3"/>
<circle cx="440.0" cy="457.0" r="13.3"/>
<circle cx="442.4" cy="474.6" r="13.3"/>
<circle cx="442.4" cy="474.6" r="13.3"/>
<circle cx="457.6" cy="466.4" r="13.3"/>
<circle cx="458.8" cy="475.8" r="13.3"/>
<circle cx="471.7" cy="471.1" r="13.3"/>
<circle cx="488.1" cy="471.1" r="13.3"/>
<circle cx="498.6" cy="475.8" r="13.3"/>
<circle cx="495.1" cy="458.2" r="13.3"/>
<circle cx="513.9" cy="454.7" r="13.3"/>
<circle cx="523.3" cy="466.4" r="13.3"/>
<circle cx="532.6" cy="468.8" r="13.3"/>
<circle cx="537.3" cy="475.8" r="13.3"/>
<circle cx="551.4" cy="475.8" r="13.3"/>
<circle cx="552.6" cy="458.2" r="13.3"/>
<circle cx="546.7" cy="464.1" r="13.3"/>
<circle cx="535.0" cy="454.7" r="13.3"/>
<circle cx="505.7" cy="447.7" r="13.3"/>
<circle cx="452.9" cy="452.4" r="13.3"/>
<circle cx="470.5" cy="452.4" r="13.3"/>
<circle cx="505.7" cy="265.9" r="13.3"/>
<circle cx="522.7" cy="265.3" r="13.3"/>
<circle cx="528.0" cy="269.5" r="13.3"/>
<circle cx="542.6" cy="270.0" r="13.3"/>
<circle cx="532.6" cy="275.3" r="13.3"/>
<circle cx="538.5" cy="282.4" r="13.3"/>
<circle cx="524.4" cy="290.6" r="13.3"/>
<circle cx="535.0" cy="292.9" r="13.3"/>
<circle cx="544.4" cy="294.1" r="13.3"/>
<circle cx="548.5" cy="298.8" r="13.3"/>
<circle cx="475.2" cy="273.6" r="13.3"/>
<circle cx="484.6" cy="277.7" r="13.3"/>
<circle cx="495.1" cy="282.4" r="13.3"/>
<circle cx="466.4" cy="289.4" r="13.3"/>
<circle cx="477.5" cy="291.7" r="13.3"/>
<circle cx="438.8" cy="287.0" r="13.3"/>
<circle cx="443.5" cy="292.9" r="13.3"/>
<circle cx="451.1" cy="290.6" r="13.3"/>
<circle cx="460.5" cy="297.6" r="13.3"/>
<circle cx="460.5" cy="297.6" r="13.3"/>
<circle cx="460.5" cy="297.6" r="13.3"/>
<circle cx="460.5" cy="297.6" r="13.3"/>
<circle cx="467.0" cy="298.8" r="13.3"/>
<circle cx="440.0" cy="307.0" r="13.3"/>
<circle cx="441.2" cy="311.7" r="13.3"/>
<circle cx="445.3" cy="317.5" r="13.3"/>
<circle cx="441.2" cy="328.1" r="13.3"/>
<circle cx="440.0" cy="342.2" r="13.3"/>
<circle cx="453.5" cy="342.7" r="13.3"/>
<circle cx="472.8" cy="323.4" r="13.3"/>
<circle cx="475.2" cy="322.2" r="13.3"/>
<circle cx="488.1" cy="318.7" r="13.3"/>
<circle cx="496.3" cy="306.4" r="13.3"/>
<circle cx="496.3" cy="306.4" r="13.3"/>
<circle cx="496.3" cy="306.4" r="13.3"/>
<circle cx="496.3" cy="306.4" r="13.3"/>
<circle cx="503.3" cy="308.1" r="13.3"/>
<circle cx="512.7" cy="310.5" r="13.3"/>
<circle cx="501.0" cy="345.7" r="13.3"/>
<circle cx="505.7" cy="328.1" r="13.3"/>
<circle cx="515.6" cy="330.4" r="13.3"/>
<circle cx="520.9" cy="339.8" r="13.3"/>
<circle cx="525.6" cy="345.7" r="13.3"/>
<circle cx="529.1" cy="337.5" r="13.3"/>
<circle cx="535.0" cy="339.8" r="13.3"/>
<circle cx="544.4" cy="325.7" r="13.3"/>
<circle cx="545.5" cy="323.4" r="13.3"/>
<circle cx="550.2" cy="339.8" r="13.3"/>
<circle cx="516.2" cy="343.3" r="13.3"/>
<circle cx="1084.4" cy="1219.1" r="13.3"/>
<circle cx="1092.0" cy="1222.6" r="13.3"/>
<circle cx="1103.8" cy="1227.3" r="13.3"/>
<circle cx="1112.0" cy="1219.7" r="13.3"/>
<circle cx="1114.3" cy="1228.5" r="13.3"/>
<circle cx="1123.7" cy="1229.7" r="13.3"/>
<circle cx="1151.8" cy="1217.9" r="13.3"/>
<circle cx="1151.8" cy="1217.9" r="13.3"/>
<circle cx="1153.0" cy="1220.3" r="13.3"/>
<circle cx="1162.4" cy="1222.6" r="13.3"/>
<circle cx="1188.2" cy="1221.5" r="13.3"/>
<circle cx="1191.7" cy="1222.6" r="13.3"/>
<circle cx="1198.7" cy="1220.3" r="13.3"/>
<circle cx="1180.0" cy="1230.8" r="13.3"/>
<circle cx="1086.2" cy="1232.0" r="13.3"/>
<circle cx="1089.7" cy="1242.6" r="13.3"/>
<circle cx="1102.6" cy="1237.9" r="13.3"/>
<circle cx="1109.6" cy="1236.7" r="13.3"/>
<circle cx="1121.4" cy="1240.2" r="13.3"/>
<circle cx="1133.1" cy="1237.9" r="13.3"/>
<circle cx="1147.2" cy="1233.2" r="13.3"/>
<circle cx="1148.3" cy="1244.9" r="13.3"/>
<circle cx="1161.2" cy="1242.6" r="13.3"/>
<circle cx="1168.3" cy="1239.0" r="13.3"/>
<circle cx="1180.0" cy="1242.6" r="13.3"/>
<circle cx="1190.5" cy="1236.7" r="13.3"/>
<circle cx="1187.0" cy="1232.0" r="13.3"/>
<circle cx="1085.0" cy="1253.1" r="13.3"/>
<circle cx="1089.7" cy="1259.0" r="13.3"/>
<circle cx="1103.8" cy="1253.1" r="13.3"/>
<circle cx="1114.3" cy="1254.3" r="13.3"/>
<circle cx="1128.4" cy="1250.8" r="13.3"/>
<circle cx="1138.9" cy="1254.3" r="13.3"/>
<circle cx="1153.0" cy="1253.1" r="13.3"/>
<circle cx="1161.2" cy="1249.6" r="13.3"/>
<circle cx="1170.6" cy="1256.6" r="13.3"/>
<circle cx="1189.4" cy="1256.6" r="13.3"/>
<circle cx="1191.7" cy="1250.8" r="13.3"/>
<circle cx="1085.0" cy="1260.1" r="13.3"/>
<circle cx="1101.4" cy="1268.4" r="13.3"/>
<circle cx="1112.0" cy="1267.2" r="13.3"/>
<circle cx="1121.4" cy="1270.7" r="13.3"/>
<circle cx="1133.1" cy="1268.4" r="13.3"/>
<circle cx="1146.0" cy="1270.7" r="13.3"/>
<circle cx="1156.5" cy="1268.4" r="13.3"/>
<circle cx="1170.6" cy="1269.5" r="13.3"/>
<circle cx="1180.0" cy="1266.0" r="13.3"/>
<circle cx="1198.7" cy="1268.9" r="13.3"/>
<circle cx="1173.0" cy="1273.0" r="13.3"/>
<circle cx="1097.3" cy="1285.9" r="13.3"/>
<circle cx="1107.3" cy="1280.1" r="13.3"/>
<circle cx="1121.4" cy="1282.4" r="13.3"/>
<circle cx="1127.2" cy="1287.1" r="13.3"/>
<circle cx="1135.4" cy="1280.1" r="13.3"/>
<circle cx="1146.0" cy="1282.4" r="13.3"/>
<circle cx="1154.2" cy="1284.8" r="13.3"/>
<circle cx="1161.2" cy="1282.4" r="13.3"/>
<circle cx="1167.1" cy="1287.1" r="13.3"/>
<circle cx="1109.6" cy="1295.3" r="13.3"/>
<circle cx="1124.9" cy="1291.8" r="13.3"/>
<circle cx="1126.0" cy="1293.0" r="13.3"/>
<circle cx="1143.6" cy="1291.8" r="13.3"/>
<circle cx="1144.8" cy="1294.2" r="13.3"/>
<circle cx="1160.6" cy="1299.4" r="13.3"/>
<circle cx="1156.5" cy="1290.6" r="13.3"/>
<circle cx="1095.6" cy="1083.1" r="13.3"/>
<circle cx="1107.3" cy="1082.5" r="13.3"/>
<circle cx="1110.8" cy="1084.9" r="13.3"/>
<circle cx="1093.8" cy="1089.6" r="13.3"/>
<circle cx="1106.7" cy="1098.4" r="13.3"/>
<circle cx="1083.8" cy="1103.6" r="13.3"/>
<circle cx="1133.1" cy="1085.5" r="13.3"/>
<circle cx="1135.4" cy="1092.5" r="13.3"/>
<circle cx="1143.6" cy="1099.5" r="13.3"/>
<circle cx="1141.3" cy="1112.4" r="13.3"/>
<circle cx="1100.8" cy="1115.9" r="13.3"/>
<circle cx="1108.5" cy="1117.7" r="13.3"/>
<circle cx="1104.9" cy="1124.1" r="13.3"/>
<circle cx="1121.4" cy="1124.1" r="13.3"/>
<circle cx="1147.2" cy="1127.1" r="13.3"/>
<circle cx="1169.4" cy="1081.9" r="13.3"/>
<circle cx="1174.1" cy="1083.1" r="13.3"/>
<circle cx="1170.6" cy="1091.3" r="13.3"/>
<circle cx="1161.2" cy="1094.8" r="13.3"/>
<circle cx="1178.8" cy="1105.4" r="13.3"/>
<circle cx="1181.2" cy="1106.0" r="13.3"/>
<circle cx="1187.0" cy="1103.0" r="13.3"/>
<circle cx="1198.2" cy="1112.4" r="13.3"/>
<circle cx="1188.2" cy="1130.0" r="13.3"/>
<circle cx="1183.5" cy="1132.4" r="13.3"/>
<circle cx="1177.6" cy="1135.9" r="13.3"/>
<circle cx="1168.3" cy="1141.7" r="13.3"/>
<circle cx="1169.4" cy="1146.4" r="13.3"/>
<circle cx="1165.9" cy="1144.1" r="13.3"/>
<circle cx="1147.2" cy="1153.5" r="13.3"/>
<circle cx="1156.5" cy="1151.1" r="13.3"/>
<circle cx="1197.6" cy="1157.0" r="13.3"/>
<circle cx="1088.5" cy="1150.5" r="13.3"/>
<circle cx="1095.6" cy="1149.9" r="13.3"/>
<circle cx="1096.1" cy="1161.7" r="13.3"/>
<circle cx="1107.9" cy="948.9" r="13.3"/>
<circle cx="1126.0" cy="947.1" r="13.3"/>
<circle cx="1135.4" cy="948.3" r="13.3"/>
<circle cx="1138.9" cy="945.9" r="13.3"/>
<circle cx="1151.8" cy="954.1" r="13.3"/>
<circle cx="1177.6" cy="951.2" r="13.3"/>
<circle cx="1180.0" cy="950.6" r="13.3"/>
<circle cx="1191.7" cy="955.3" r="13.3"/>
<circle cx="1088.5" cy="966.5" r="13.3"/>
<circle cx="1100.2" cy="963.5" r="13.3"/>
<circle cx="1089.7" cy="981.1" r="13.3"/>
<circle cx="1088.5" cy="984.6" r="13.3"/>
<circle cx="1100.2" cy="991.7" r="13.3"/>
<circle cx="1106.1" cy="994.0" r="13.3"/>
<circle cx="1115.5" cy="994.0" r="13.3"/>
<circle cx="1127.2" cy="983.5" r="13.3"/>
<circle cx="1133.1" cy="987.0" r="13.3"/>
<circle cx="1149.5" cy="968.2" r="13.3"/>
<circle cx="1157.7" cy="975.2" r="13.3"/>
<circle cx="1185.8" cy="978.8" r="13.3"/>
<circle cx="1189.4" cy="977.6" r="13.3"/>
<circle cx="1188.2" cy="987.0" r="13.3"/>
<circle cx="1194.1" cy="987.0" r="13.3"/>
<circle cx="1160.1" cy="996.4" r="13.3"/>
<circle cx="1164.7" cy="1005.7" r="13.3"/>
<circle cx="1180.0" cy="1012.8" r="13.3"/>
<circle cx="1189.4" cy="1011.6" r="13.3"/>
<circle cx="1086.2" cy="1024.5" r="13.3"/>
<circle cx="1094.4" cy="1025.7" r="13.3"/>
<circle cx="1110.8" cy="1018.6" r="13.3"/>
<circle cx="1120.2" cy="1019.8" r="13.3"/>
<circle cx="1130.7" cy="1017.5" r="13.3"/>
<circle cx="1137.8" cy="1024.5" r="13.3"/>
<circle cx="1146.0" cy="1017.5" r="13.3"/>
<circle cx="1154.2" cy="1022.2" r="13.3"/>
<circle cx="1144.8" cy="1008.1" r="13.3"/>
<circle cx="1093.2" cy="836.1" r="13.3"/>
<circle cx="1173.5" cy="812.0" r="13.3"/>
<circle cx="1190.5" cy="827.5" r="13.3"/>
<circle cx="1181.7" cy="839.8" r="13.3"/>
<circle cx="1189.1" cy="853.9" r="13.3"/>
<circle cx="1096.7" cy="882.0" r="13.3"/>
<circle cx="1106.7" cy="878.5" r="13.3"/>
<circle cx="1155.4" cy="861.5" r="13.3"/>
<circle cx="1160.1" cy="862.7" r="13.3"/>
<circle cx="1163.0" cy="866.2" r="13.3"/>
<circle cx="1165.9" cy="868.0" r="13.3"/>
<circle cx="1170.6" cy="879.1" r="13.3"/>
<circle cx="1177.1" cy="886.7" r="13.3"/>
<circle cx="1193.5" cy="885.9" r="13.3"/>
<circle cx="1123.7" cy="687.4" r="13.3"/>
<circle cx="1187.6" cy="676.9" r="13.3"/>
<circle cx="1195.0" cy="673.7" r="13.3"/>
<circle cx="1109.6" cy="709.1" r="13.3"/>
<circle cx="1133.1" cy="700.9" r="13.3"/>
<circle cx="1135.4" cy="703.2" r="13.3"/>
<circle cx="1137.8" cy="702.1" r="13.3"/>
<circle cx="1140.1" cy="706.8" r="13.3"/>
<circle cx="1142.5" cy="712.6" r="13.3"/>
<circle cx="1156.5" cy="699.1" r="13.3"/>
<circle cx="1158.9" cy="707.9" r="13.3"/>
<circle cx="1173.5" cy="702.1" r="13.3"/>
<circle cx="1184.7" cy="713.2" r="13.3"/>
<circle cx="1180.0" cy="717.3" r="13.3"/>
<circle cx="1095.0" cy="729.0" r="13.3"/>
<circle cx="1087.9" cy="740.2" r="13.3"/>
<circle cx="1114.3" cy="724.4" r="13.3"/>
<circle cx="1134.3" cy="729.0" r="13.3"/>
<circle cx="1140.1" cy="739.0" r="13.3"/>
<circle cx="1144.8" cy="719.7" r="13.3"/>
<circle cx="1164.7" cy="740.2" r="13.3"/>
<circle cx="1168.3" cy="725.5" r="13.3"/>
<circle cx="1190.5" cy="750.2" r="13.3"/>
<circle cx="1177.6" cy="722.0" r="13.3"/>
<circle cx="1084.4" cy="545.6" r="13.3"/>
<circle cx="1085.6" cy="557.3" r="13.3"/>
<circle cx="1106.1" cy="545.9" r="13.3"/>
<circle cx="1114.6" cy="543.6" r="13.3"/>
<circle cx="1117.3" cy="575.5" r="13.3"/>
<circle cx="1084.8" cy="591.9" r="13.3"/>
<circle cx="1085.6" cy="612.7" r="13.3"/>
<circle cx="1127.0" cy="598.3" r="13.3"/>
<circle cx="1148.3" cy="542.6" r="13.3"/>
<circle cx="1162.4" cy="540.5" r="13.3"/>
<circle cx="1176.5" cy="549.1" r="13.3"/>
<circle cx="1157.1" cy="562.6" r="13.3"/>
<circle cx="1157.9" cy="575.7" r="13.3"/>
<circle cx="1197.6" cy="572.9" r="13.3"/>
<circle cx="1170.8" cy="608.3" r="13.3"/>
<circle cx="1180.6" cy="613.0" r="13.3"/>
<circle cx="1182.9" cy="613.6" r="13.3"/>
<circle cx="1134.8" cy="435.4" r="13.3"/>
<circle cx="1129.6" cy="444.7" r="13.3"/>
<circle cx="1120.8" cy="450.2" r="13.3"/>
<circle cx="1121.9" cy="466.7" r="13.3"/>
<circle cx="1084.8" cy="472.3" r="13.3"/>
<circle cx="1109.4" cy="478.4" r="13.3"/>
<circle cx="1145.2" cy="480.9" r="13.3"/>
<circle cx="1177.4" cy="452.4" r="13.3"/>
<circle cx="1103.8" cy="273.0" r="13.3"/>
<circle cx="1107.3" cy="271.2" r="13.3"/>
<circle cx="1109.6" cy="273.0" r="13.3"/>
<circle cx="1112.0" cy="275.3" r="13.3"/>
<circle cx="1113.1" cy="266.5" r="13.3"/>
<circle cx="1116.7" cy="271.8" r="13.3"/>
<circle cx="1109.6" cy="284.7" r="13.3"/>
<circle cx="1114.9" cy="289.4" r="13.3"/>
<circle cx="1134.3" cy="273.0" r="13.3"/>
<circle cx="1151.6" cy="265.9" r="13.3"/>
<circle cx="1173.9" cy="273.6" r="13.3"/>
<circle cx="1189.4" cy="300.9" r="13.3"/>
<circle cx="1175.9" cy="314.6" r="13.3"/>
<circle cx="1148.9" cy="307.9" r="13.3"/>
<circle cx="1136.8" cy="294.7" r="13.3"/>
<circle cx="1117.8" cy="300.5" r="13.3"/>
<circle cx="1115.3" cy="307.6" r="13.3"/>
<circle cx="1093.2" cy="298.2" r="13.3"/>
<circle cx="1092.3" cy="332.0" r="13.3"/>
<circle cx="1107.5" cy="343.1" r="13.3"/>
</g>
<g class="pt" fill="#A3B8E8">
<circle cx="706.5" cy="1290.0" r="13.3"/>
<circle cx="628.6" cy="1090.7" r="13.3"/>
<circle cx="633.3" cy="1089.6" r="13.3"/>
<circle cx="607.8" cy="1109.8" r="13.3"/>
<circle cx="627.6" cy="1125.9" r="13.3"/>
<circle cx="642.6" cy="1134.9" r="13.3"/>
<circle cx="602.8" cy="1162.8" r="13.3"/>
<circle cx="607.5" cy="1159.3" r="13.3"/>
<circle cx="637.9" cy="1161.1" r="13.3"/>
<circle cx="642.0" cy="1156.7" r="13.3"/>
<circle cx="676.6" cy="1122.7" r="13.3"/>
<circle cx="689.0" cy="1101.9" r="13.3"/>
<circle cx="694.8" cy="1106.0" r="13.3"/>
<circle cx="704.8" cy="1101.3" r="13.3"/>
<circle cx="712.4" cy="1095.1" r="13.3"/>
<circle cx="693.6" cy="1141.5" r="13.3"/>
<circle cx="632.7" cy="947.3" r="13.3"/>
<circle cx="612.7" cy="966.5" r="13.3"/>
<circle cx="633.8" cy="961.2" r="13.3"/>
<circle cx="654.4" cy="961.8" r="13.3"/>
<circle cx="660.2" cy="953.9" r="13.3"/>
<circle cx="670.8" cy="972.3" r="13.3"/>
<circle cx="693.1" cy="948.3" r="13.3"/>
<circle cx="707.7" cy="969.2" r="13.3"/>
<circle cx="701.3" cy="982.3" r="13.3"/>
<circle cx="713.6" cy="985.8" r="13.3"/>
<circle cx="706.0" cy="989.3" r="13.3"/>
<circle cx="602.2" cy="998.7" r="13.3"/>
<circle cx="611.6" cy="1008.7" r="13.3"/>
<circle cx="605.9" cy="1026.3" r="13.3"/>
<circle cx="644.6" cy="1002.5" r="13.3"/>
<circle cx="671.4" cy="999.3" r="13.3"/>
<circle cx="683.7" cy="1009.5" r="13.3"/>
<circle cx="605.1" cy="823.4" r="13.3"/>
<circle cx="620.4" cy="821.9" r="13.3"/>
<circle cx="632.9" cy="811.1" r="13.3"/>
<circle cx="696.6" cy="811.1" r="13.3"/>
<circle cx="650.5" cy="829.9" r="13.3"/>
<circle cx="670.8" cy="837.5" r="13.3"/>
<circle cx="662.0" cy="848.0" r="13.3"/>
<circle cx="701.6" cy="835.7" r="13.3"/>
<circle cx="690.7" cy="856.3" r="13.3"/>
<circle cx="679.0" cy="860.9" r="13.3"/>
<circle cx="683.1" cy="877.4" r="13.3"/>
<circle cx="687.2" cy="880.3" r="13.3"/>
<circle cx="619.8" cy="675.7" r="13.3"/>
<circle cx="620.9" cy="679.2" r="13.3"/>
<circle cx="604.5" cy="686.8" r="13.3"/>
<circle cx="608.0" cy="688.0" r="13.3"/>
<circle cx="615.1" cy="696.2" r="13.3"/>
<circle cx="644.4" cy="686.8" r="13.3"/>
<circle cx="650.8" cy="681.6" r="13.3"/>
<circle cx="647.9" cy="700.9" r="13.3"/>
<circle cx="657.3" cy="692.7" r="13.3"/>
<circle cx="681.9" cy="685.1" r="13.3"/>
<circle cx="690.1" cy="691.5" r="13.3"/>
<circle cx="700.1" cy="681.6" r="13.3"/>
<circle cx="712.4" cy="685.7" r="13.3"/>
<circle cx="696.0" cy="700.9" r="13.3"/>
<circle cx="696.0" cy="700.9" r="13.3"/>
<circle cx="693.6" cy="703.2" r="13.3"/>
<circle cx="687.8" cy="704.4" r="13.3"/>
<circle cx="667.8" cy="710.3" r="13.3"/>
<circle cx="644.4" cy="711.5" r="13.3"/>
<circle cx="617.4" cy="710.3" r="13.3"/>
<circle cx="638.5" cy="726.7" r="13.3"/>
<circle cx="644.4" cy="726.7" r="13.3"/>
<circle cx="656.7" cy="719.1" r="13.3"/>
<circle cx="613.9" cy="740.8" r="13.3"/>
<circle cx="618.6" cy="743.1" r="13.3"/>
<circle cx="622.1" cy="743.1" r="13.3"/>
<circle cx="643.2" cy="744.3" r="13.3"/>
<circle cx="650.3" cy="734.9" r="13.3"/>
<circle cx="680.2" cy="751.3" r="13.3"/>
<circle cx="680.2" cy="751.3" r="13.3"/>
<circle cx="688.4" cy="730.2" r="13.3"/>
<circle cx="696.0" cy="732.6" r="13.3"/>
<circle cx="698.3" cy="738.4" r="13.3"/>
<circle cx="711.8" cy="725.5" r="13.3"/>
<circle cx="693.6" cy="712.6" r="13.3"/>
<circle cx="608.6" cy="542.6" r="13.3"/>
<circle cx="617.4" cy="540.3" r="13.3"/>
<circle cx="623.3" cy="547.3" r="13.3"/>
<circle cx="630.3" cy="548.5" r="13.3"/>
<circle cx="601.0" cy="560.2" r="13.3"/>
<circle cx="602.2" cy="569.6" r="13.3"/>
<circle cx="605.7" cy="562.6" r="13.3"/>
<circle cx="613.9" cy="557.9" r="13.3"/>
<circle cx="632.7" cy="576.6" r="13.3"/>
<circle cx="639.7" cy="580.1" r="13.3"/>
<circle cx="651.4" cy="541.5" r="13.3"/>
<circle cx="656.1" cy="542.6" r="13.3"/>
<circle cx="664.3" cy="538.5" r="13.3"/>
<circle cx="657.3" cy="553.2" r="13.3"/>
<circle cx="679.6" cy="554.4" r="13.3"/>
<circle cx="684.3" cy="547.3" r="13.3"/>
<circle cx="691.3" cy="539.1" r="13.3"/>
<circle cx="694.8" cy="548.5" r="13.3"/>
<circle cx="689.0" cy="556.7" r="13.3"/>
<circle cx="714.7" cy="560.8" r="13.3"/>
<circle cx="712.4" cy="575.5" r="13.3"/>
<circle cx="711.2" cy="579.0" r="13.3"/>
<circle cx="696.0" cy="579.0" r="13.3"/>
<circle cx="658.5" cy="583.7" r="13.3"/>
<circle cx="609.2" cy="604.8" r="13.3"/>
<circle cx="612.7" cy="608.3" r="13.3"/>
<circle cx="615.1" cy="609.5" r="13.3"/>
<circle cx="601.6" cy="618.8" r="13.3"/>
<circle cx="638.5" cy="600.1" r="13.3"/>
<circle cx="650.3" cy="593.0" r="13.3"/>
<circle cx="657.3" cy="613.0" r="13.3"/>
<circle cx="660.8" cy="611.8" r="13.3"/>
<circle cx="676.1" cy="597.7" r="13.3"/>
<circle cx="679.6" cy="600.1" r="13.3"/>
<circle cx="689.0" cy="610.6" r="13.3"/>
<circle cx="691.3" cy="607.1" r="13.3"/>
<circle cx="703.6" cy="602.4" r="13.3"/>
<circle cx="696.0" cy="593.0" r="13.3"/>
<circle cx="677.2" cy="583.7" r="13.3"/>
<circle cx="646.7" cy="588.4" r="13.3"/>
<circle cx="606.3" cy="407.2" r="13.3"/>
<circle cx="611.0" cy="418.4" r="13.3"/>
<circle cx="601.0" cy="423.0" r="13.3"/>
<circle cx="601.0" cy="423.0" r="13.3"/>
<circle cx="605.7" cy="422.5" r="13.3"/>
<circle cx="610.4" cy="422.5" r="13.3"/>
<circle cx="608.0" cy="433.6" r="13.3"/>
<circle cx="619.8" cy="428.9" r="13.3"/>
<circle cx="633.3" cy="420.7" r="13.3"/>
<circle cx="637.4" cy="434.8" r="13.3"/>
<circle cx="649.1" cy="424.2" r="13.3"/>
<circle cx="647.9" cy="433.6" r="13.3"/>
<circle cx="656.1" cy="437.1" r="13.3"/>
<circle cx="662.6" cy="405.5" r="13.3"/>
<circle cx="662.6" cy="405.5" r="13.3"/>
<circle cx="660.8" cy="413.7" r="13.3"/>
<circle cx="663.7" cy="430.1" r="13.3"/>
<circle cx="679.6" cy="426.6" r="13.3"/>
<circle cx="683.1" cy="416.0" r="13.3"/>
<circle cx="683.1" cy="416.0" r="13.3"/>
<circle cx="686.6" cy="406.6" r="13.3"/>
<circle cx="706.0" cy="407.2" r="13.3"/>
<circle cx="714.7" cy="411.3" r="13.3"/>
<circle cx="710.1" cy="420.7" r="13.3"/>
<circle cx="691.3" cy="421.9" r="13.3"/>
<circle cx="611.6" cy="450.0" r="13.3"/>
<circle cx="624.5" cy="453.5" r="13.3"/>
<circle cx="628.0" cy="467.6" r="13.3"/>
<circle cx="616.2" cy="468.8" r="13.3"/>
<circle cx="599.8" cy="472.3" r="13.3"/>
<circle cx="626.8" cy="480.5" r="13.3"/>
<circle cx="649.1" cy="472.3" r="13.3"/>
<circle cx="654.9" cy="479.3" r="13.3"/>
<circle cx="654.9" cy="479.3" r="13.3"/>
<circle cx="659.6" cy="468.8" r="13.3"/>
<circle cx="669.0" cy="453.5" r="13.3"/>
<circle cx="670.2" cy="464.1" r="13.3"/>
<circle cx="667.8" cy="455.9" r="13.3"/>
<circle cx="703.6" cy="448.8" r="13.3"/>
<circle cx="706.5" cy="460.6" r="13.3"/>
<circle cx="693.6" cy="461.7" r="13.3"/>
<circle cx="696.0" cy="471.1" r="13.3"/>
<circle cx="691.3" cy="479.3" r="13.3"/>
<circle cx="700.7" cy="480.5" r="13.3"/>
<circle cx="703.0" cy="484.0" r="13.3"/>
<circle cx="684.3" cy="475.8" r="13.3"/>
<circle cx="698.3" cy="472.3" r="13.3"/>
<circle cx="610.4" cy="273.6" r="13.3"/>
<circle cx="613.9" cy="280.0" r="13.3"/>
<circle cx="623.3" cy="280.0" r="13.3"/>
<circle cx="635.6" cy="271.2" r="13.3"/>
<circle cx="643.2" cy="265.3" r="13.3"/>
<circle cx="649.1" cy="267.1" r="13.3"/>
<circle cx="660.8" cy="265.3" r="13.3"/>
<circle cx="660.8" cy="268.9" r="13.3"/>
<circle cx="684.3" cy="269.5" r="13.3"/>
<circle cx="685.4" cy="277.7" r="13.3"/>
<circle cx="695.4" cy="265.3" r="13.3"/>
<circle cx="690.1" cy="275.3" r="13.3"/>
<circle cx="712.4" cy="284.7" r="13.3"/>
<circle cx="705.4" cy="283.5" r="13.3"/>
<circle cx="694.8" cy="282.4" r="13.3"/>
<circle cx="645.6" cy="287.6" r="13.3"/>
<circle cx="647.9" cy="302.3" r="13.3"/>
<circle cx="664.3" cy="302.3" r="13.3"/>
<circle cx="667.8" cy="303.5" r="13.3"/>
<circle cx="603.4" cy="305.8" r="13.3"/>
<circle cx="602.2" cy="307.0" r="13.3"/>
<circle cx="618.6" cy="305.8" r="13.3"/>
<circle cx="626.2" cy="312.3" r="13.3"/>
<circle cx="626.2" cy="312.3" r="13.3"/>
<circle cx="708.9" cy="301.1" r="13.3"/>
<circle cx="698.3" cy="307.0" r="13.3"/>
<circle cx="711.2" cy="315.2" r="13.3"/>
<circle cx="701.8" cy="310.5" r="13.3"/>
<circle cx="603.9" cy="329.3" r="13.3"/>
<circle cx="617.4" cy="321.0" r="13.3"/>
<circle cx="624.5" cy="335.1" r="13.3"/>
<circle cx="612.1" cy="346.3" r="13.3"/>
<circle cx="628.0" cy="338.6" r="13.3"/>
<circle cx="643.8" cy="328.1" r="13.3"/>
<circle cx="642.0" cy="345.7" r="13.3"/>
<circle cx="652.6" cy="321.0" r="13.3"/>
<circle cx="660.8" cy="346.8" r="13.3"/>
<circle cx="664.3" cy="328.1" r="13.3"/>
<circle cx="666.7" cy="322.2" r="13.3"/>
<circle cx="672.5" cy="316.4" r="13.3"/>
<circle cx="683.1" cy="332.8" r="13.3"/>
<circle cx="685.4" cy="343.3" r="13.3"/>
<circle cx="692.5" cy="335.1" r="13.3"/>
<circle cx="710.1" cy="332.8" r="13.3"/>
<circle cx="707.7" cy="322.2" r="13.3"/>
<circle cx="696.0" cy="316.4" r="13.3"/>
<circle cx="678.4" cy="311.7" r="13.3"/>
<circle cx="658.5" cy="314.0" r="13.3"/>
<circle cx="637.4" cy="316.4" r="13.3"/>
<circle cx="1264.8" cy="1217.7" r="13.3"/>
<circle cx="1257.1" cy="1230.6" r="13.3"/>
<circle cx="1248.4" cy="1246.1" r="13.3"/>
<circle cx="1258.3" cy="1243.1" r="13.3"/>
<circle cx="1258.3" cy="1243.1" r="13.3"/>
<circle cx="1265.9" cy="1256.6" r="13.3"/>
<circle cx="1271.8" cy="1265.4" r="13.3"/>
<circle cx="1247.2" cy="1271.3" r="13.3"/>
<circle cx="1247.2" cy="1279.5" r="13.3"/>
<circle cx="1262.4" cy="1274.8" r="13.3"/>
<circle cx="1268.3" cy="1282.4" r="13.3"/>
<circle cx="1290.0" cy="1220.5" r="13.3"/>
<circle cx="1302.3" cy="1220.9" r="13.3"/>
<circle cx="1309.3" cy="1217.7" r="13.3"/>
<circle cx="1317.5" cy="1243.1" r="13.3"/>
<circle cx="1325.2" cy="1244.3" r="13.3"/>
<circle cx="1338.1" cy="1236.7" r="13.3"/>
<circle cx="1332.8" cy="1257.8" r="13.3"/>
<circle cx="1337.5" cy="1263.1" r="13.3"/>
<circle cx="1327.5" cy="1284.8" r="13.3"/>
<circle cx="1348.0" cy="1287.4" r="13.3"/>
<circle cx="1288.8" cy="1291.8" r="13.3"/>
<circle cx="1301.7" cy="1273.0" r="13.3"/>
<circle cx="1304.6" cy="1294.7" r="13.3"/>
<circle cx="1310.5" cy="1291.8" r="13.3"/>
<circle cx="1321.1" cy="1288.9" r="13.3"/>
<circle cx="1256.0" cy="1084.6" r="13.3"/>
<circle cx="1270.4" cy="1087.8" r="13.3"/>
<circle cx="1292.9" cy="1093.7" r="13.3"/>
<circle cx="1315.2" cy="1089.6" r="13.3"/>
<circle cx="1344.5" cy="1089.0" r="13.3"/>
<circle cx="1245.1" cy="1109.5" r="13.3"/>
<circle cx="1299.4" cy="1106.6" r="13.3"/>
<circle cx="1309.3" cy="1104.8" r="13.3"/>
<circle cx="1312.8" cy="1107.7" r="13.3"/>
<circle cx="1315.2" cy="1114.8" r="13.3"/>
<circle cx="1326.3" cy="1105.4" r="13.3"/>
<circle cx="1331.6" cy="1112.4" r="13.3"/>
<circle cx="1267.7" cy="1132.4" r="13.3"/>
<circle cx="1284.1" cy="1130.0" r="13.3"/>
<circle cx="1282.4" cy="1141.7" r="13.3"/>
<circle cx="1299.4" cy="1135.9" r="13.3"/>
<circle cx="1304.6" cy="1133.5" r="13.3"/>
<circle cx="1309.3" cy="1127.7" r="13.3"/>
<circle cx="1324.6" cy="1132.4" r="13.3"/>
<circle cx="1335.1" cy="1138.2" r="13.3"/>
<circle cx="1342.2" cy="1141.7" r="13.3"/>
<circle cx="1346.8" cy="1142.9" r="13.3"/>
<circle cx="1352.1" cy="1144.1" r="13.3"/>
<circle cx="1356.2" cy="1139.4" r="13.3"/>
<circle cx="1247.2" cy="1152.1" r="13.3"/>
<circle cx="1268.3" cy="1160.5" r="13.3"/>
<circle cx="1284.1" cy="1153.5" r="13.3"/>
<circle cx="1307.0" cy="1161.7" r="13.3"/>
<circle cx="1312.8" cy="1154.6" r="13.3"/>
<circle cx="1317.5" cy="1155.8" r="13.3"/>
<circle cx="1346.8" cy="1157.0" r="13.3"/>
<circle cx="1354.5" cy="1160.5" r="13.3"/>
<circle cx="1273.6" cy="947.1" r="13.3"/>
<circle cx="1282.4" cy="948.9" r="13.3"/>
<circle cx="1287.0" cy="953.0" r="13.3"/>
<circle cx="1289.4" cy="955.3" r="13.3"/>
<circle cx="1291.7" cy="963.5" r="13.3"/>
<circle cx="1302.9" cy="948.9" r="13.3"/>
<circle cx="1258.9" cy="965.9" r="13.3"/>
<circle cx="1263.6" cy="969.4" r="13.3"/>
<circle cx="1262.4" cy="972.9" r="13.3"/>
<circle cx="1246.0" cy="975.2" r="13.3"/>
<circle cx="1247.2" cy="982.3" r="13.3"/>
<circle cx="1258.9" cy="983.5" r="13.3"/>
<circle cx="1294.1" cy="984.6" r="13.3"/>
<circle cx="1332.2" cy="957.7" r="13.3"/>
<circle cx="1342.2" cy="952.4" r="13.3"/>
<circle cx="1349.8" cy="961.2" r="13.3"/>
<circle cx="1348.6" cy="971.7" r="13.3"/>
<circle cx="1334.0" cy="976.4" r="13.3"/>
<circle cx="1340.4" cy="981.1" r="13.3"/>
<circle cx="1326.3" cy="983.5" r="13.3"/>
<circle cx="1246.0" cy="1001.0" r="13.3"/>
<circle cx="1256.6" cy="1001.0" r="13.3"/>
<circle cx="1273.6" cy="1008.1" r="13.3"/>
<circle cx="1255.4" cy="1017.5" r="13.3"/>
<circle cx="1263.6" cy="1019.8" r="13.3"/>
<circle cx="1281.2" cy="1015.1" r="13.3"/>
<circle cx="1277.7" cy="1025.7" r="13.3"/>
<circle cx="1290.6" cy="1011.6" r="13.3"/>
<circle cx="1322.2" cy="995.2" r="13.3"/>
<circle cx="1341.0" cy="1001.0" r="13.3"/>
<circle cx="1308.2" cy="1016.3" r="13.3"/>
<circle cx="1311.7" cy="1022.2" r="13.3"/>
<circle cx="1318.7" cy="1024.5" r="13.3"/>
<circle cx="1331.6" cy="1012.8" r="13.3"/>
<circle cx="1332.8" cy="1022.2" r="13.3"/>
<circle cx="1345.7" cy="1025.7" r="13.3"/>
<circle cx="1358.6" cy="1024.5" r="13.3"/>
<circle cx="1315.2" cy="1017.5" r="13.3"/>
<circle cx="1249.8" cy="814.0" r="13.3"/>
<circle cx="1280.0" cy="809.9" r="13.3"/>
<circle cx="1287.0" cy="830.5" r="13.3"/>
<circle cx="1285.9" cy="842.8" r="13.3"/>
<circle cx="1296.4" cy="832.2" r="13.3"/>
<circle cx="1297.6" cy="838.1" r="13.3"/>
<circle cx="1305.8" cy="841.6" r="13.3"/>
<circle cx="1312.8" cy="829.9" r="13.3"/>
<circle cx="1322.2" cy="821.7" r="13.3"/>
<circle cx="1324.6" cy="835.7" r="13.3"/>
<circle cx="1335.7" cy="810.5" r="13.3"/>
<circle cx="1341.0" cy="815.8" r="13.3"/>
<circle cx="1339.8" cy="825.2" r="13.3"/>
<circle cx="1357.4" cy="828.7" r="13.3"/>
<circle cx="1358.6" cy="836.9" r="13.3"/>
<circle cx="1342.2" cy="841.6" r="13.3"/>
<circle cx="1336.3" cy="851.0" r="13.3"/>
<circle cx="1343.3" cy="855.7" r="13.3"/>
<circle cx="1350.4" cy="858.0" r="13.3"/>
<circle cx="1335.1" cy="852.1" r="13.3"/>
<circle cx="1262.4" cy="862.7" r="13.3"/>
<circle cx="1274.1" cy="865.0" r="13.3"/>
<circle cx="1268.3" cy="872.1" r="13.3"/>
<circle cx="1267.1" cy="889.7" r="13.3"/>
<circle cx="1267.7" cy="874.4" r="13.3"/>
<circle cx="1332.2" cy="882.6" r="13.3"/>
<circle cx="1338.6" cy="889.7" r="13.3"/>
<circle cx="1355.6" cy="886.7" r="13.3"/>
<circle cx="1251.9" cy="689.2" r="13.3"/>
<circle cx="1251.9" cy="689.2" r="13.3"/>
<circle cx="1254.2" cy="691.5" r="13.3"/>
<circle cx="1275.9" cy="688.6" r="13.3"/>
<circle cx="1284.7" cy="679.2" r="13.3"/>
<circle cx="1296.4" cy="682.7" r="13.3"/>
<circle cx="1304.6" cy="695.0" r="13.3"/>
<circle cx="1319.3" cy="675.7" r="13.3"/>
<circle cx="1317.5" cy="682.1" r="13.3"/>
<circle cx="1326.9" cy="686.8" r="13.3"/>
<circle cx="1349.2" cy="673.3" r="13.3"/>
<circle cx="1359.7" cy="674.5" r="13.3"/>
<circle cx="1348.0" cy="683.3" r="13.3"/>
<circle cx="1339.8" cy="698.6" r="13.3"/>
<circle cx="1344.5" cy="703.2" r="13.3"/>
<circle cx="1342.2" cy="716.1" r="13.3"/>
<circle cx="1320.5" cy="709.1" r="13.3"/>
<circle cx="1285.9" cy="712.0" r="13.3"/>
<circle cx="1246.0" cy="719.7" r="13.3"/>
<circle cx="1247.2" cy="726.7" r="13.3"/>
<circle cx="1248.4" cy="733.7" r="13.3"/>
<circle cx="1256.6" cy="749.0" r="13.3"/>
<circle cx="1261.8" cy="741.9" r="13.3"/>
<circle cx="1269.5" cy="731.4" r="13.3"/>
<circle cx="1277.7" cy="733.7" r="13.3"/>
<circle cx="1282.4" cy="739.6" r="13.3"/>
<circle cx="1282.4" cy="749.0" r="13.3"/>
<circle cx="1285.9" cy="738.4" r="13.3"/>
<circle cx="1308.2" cy="722.0" r="13.3"/>
<circle cx="1315.2" cy="736.1" r="13.3"/>
<circle cx="1317.5" cy="739.6" r="13.3"/>
<circle cx="1314.0" cy="726.7" r="13.3"/>
<circle cx="1326.9" cy="751.3" r="13.3"/>
<circle cx="1329.3" cy="730.2" r="13.3"/>
<circle cx="1334.0" cy="738.4" r="13.3"/>
<circle cx="1344.5" cy="746.6" r="13.3"/>
<circle cx="1344.5" cy="746.6" r="13.3"/>
<circle cx="1332.8" cy="724.4" r="13.3"/>
<circle cx="1263.6" cy="548.5" r="13.3"/>
<circle cx="1271.8" cy="550.8" r="13.3"/>
<circle cx="1275.9" cy="542.6" r="13.3"/>
<circle cx="1281.2" cy="559.0" r="13.3"/>
<circle cx="1290.0" cy="543.8" r="13.3"/>
<circle cx="1264.2" cy="574.3" r="13.3"/>
<circle cx="1303.5" cy="537.3" r="13.3"/>
<circle cx="1308.2" cy="542.6" r="13.3"/>
<circle cx="1321.1" cy="538.5" r="13.3"/>
<circle cx="1319.9" cy="546.1" r="13.3"/>
<circle cx="1344.5" cy="539.1" r="13.3"/>
<circle cx="1346.8" cy="537.9" r="13.3"/>
<circle cx="1335.7" cy="552.0" r="13.3"/>
<circle cx="1355.1" cy="552.6" r="13.3"/>
<circle cx="1321.1" cy="561.4" r="13.3"/>
<circle cx="1324.6" cy="567.2" r="13.3"/>
<circle cx="1334.0" cy="564.9" r="13.3"/>
<circle cx="1343.3" cy="567.2" r="13.3"/>
<circle cx="1311.7" cy="580.1" r="13.3"/>
<circle cx="1349.2" cy="579.0" r="13.3"/>
<circle cx="1357.4" cy="581.3" r="13.3"/>
<circle cx="1353.9" cy="586.0" r="13.3"/>
<circle cx="1346.8" cy="594.2" r="13.3"/>
<circle cx="1255.4" cy="596.0" r="13.3"/>
<circle cx="1263.6" cy="590.7" r="13.3"/>
<circle cx="1271.8" cy="605.9" r="13.3"/>
<circle cx="1268.3" cy="617.7" r="13.3"/>
<circle cx="1280.0" cy="590.7" r="13.3"/>
<circle cx="1282.4" cy="601.3" r="13.3"/>
<circle cx="1289.4" cy="598.9" r="13.3"/>
<circle cx="1294.1" cy="590.7" r="13.3"/>
<circle cx="1299.9" cy="591.9" r="13.3"/>
<circle cx="1292.9" cy="611.8" r="13.3"/>
<circle cx="1305.8" cy="607.1" r="13.3"/>
<circle cx="1309.3" cy="588.4" r="13.3"/>
<circle cx="1322.2" cy="580.1" r="13.3"/>
<circle cx="1329.3" cy="610.6" r="13.3"/>
<circle cx="1358.0" cy="611.8" r="13.3"/>
<circle cx="1348.0" cy="590.7" r="13.3"/>
<circle cx="1247.2" cy="411.3" r="13.3"/>
<circle cx="1258.9" cy="407.8" r="13.3"/>
<circle cx="1281.2" cy="406.6" r="13.3"/>
<circle cx="1283.5" cy="405.5" r="13.3"/>
<circle cx="1285.9" cy="406.0" r="13.3"/>
<circle cx="1282.4" cy="407.2" r="13.3"/>
<circle cx="1307.0" cy="417.2" r="13.3"/>
<circle cx="1308.2" cy="418.4" r="13.3"/>
<circle cx="1331.0" cy="407.2" r="13.3"/>
<circle cx="1332.8" cy="419.5" r="13.3"/>
<circle cx="1326.3" cy="435.4" r="13.3"/>
<circle cx="1329.8" cy="444.1" r="13.3"/>
<circle cx="1251.9" cy="427.7" r="13.3"/>
<circle cx="1257.1" cy="431.2" r="13.3"/>
<circle cx="1249.5" cy="448.8" r="13.3"/>
<circle cx="1256.6" cy="448.8" r="13.3"/>
<circle cx="1264.8" cy="451.2" r="13.3"/>
<circle cx="1270.6" cy="453.5" r="13.3"/>
<circle cx="1269.5" cy="462.9" r="13.3"/>
<circle cx="1250.1" cy="464.7" r="13.3"/>
<circle cx="1296.4" cy="447.1" r="13.3"/>
<circle cx="1302.3" cy="444.1" r="13.3"/>
<circle cx="1309.9" cy="465.3" r="13.3"/>
<circle cx="1315.2" cy="469.4" r="13.3"/>
<circle cx="1307.0" cy="478.2" r="13.3"/>
<circle cx="1292.9" cy="476.4" r="13.3"/>
<circle cx="1317.5" cy="481.7" r="13.3"/>
<circle cx="1324.6" cy="462.9" r="13.3"/>
<circle cx="1330.4" cy="455.9" r="13.3"/>
<circle cx="1341.6" cy="454.7" r="13.3"/>
<circle cx="1346.3" cy="469.9" r="13.3"/>
<circle cx="1245.4" cy="304.4" r="13.3"/>
<circle cx="1253.6" cy="312.3" r="13.3"/>
<circle cx="1271.8" cy="304.0" r="13.3"/>
<circle cx="1271.8" cy="304.0" r="13.3"/>
<circle cx="1282.4" cy="311.1" r="13.3"/>
<circle cx="1305.8" cy="309.3" r="13.3"/>
<circle cx="1305.6" cy="318.7" r="13.3"/>
<circle cx="1319.9" cy="330.7" r="13.3"/>
<circle cx="1334.5" cy="334.5" r="13.3"/>
<circle cx="1341.0" cy="345.1" r="13.3"/>
<circle cx="1345.7" cy="299.9" r="13.3"/>
<circle cx="1342.4" cy="310.3" r="13.3"/>
<circle cx="1358.0" cy="309.1" r="13.3"/>
</g>
<g fill="#000">
<circle cx="335.3" cy="578.4" r="12.7"/>
<circle cx="496.4" cy="579.6" r="12.7"/>
<circle cx="657.6" cy="562.0" r="12.7"/>
<circle cx="980.3" cy="977.8" r="12.7"/>
<circle cx="1141.3" cy="972.0" r="12.7"/>
<circle cx="1302.5" cy="809.0" r="12.7"/>
</g>
<rect x="110.4" y="113.2" width="1417.4" height="1270.2" fill="none" stroke="#2e2e2e" stroke-width="2.1"/>
<g stroke="#333" stroke-width="2.8">
<line x1="100.2" x2="110.4" y1="1258.4" y2="1258.4"/>
<line x1="100.2" x2="110.4" y1="986.4" y2="986.4"/>
<line x1="100.2" x2="110.4" y1="714.4" y2="714.4"/>
<line x1="100.2" x2="110.4" y1="442.4" y2="442.4"/>
<line x1="100.2" x2="110.4" y1="170.4" y2="170.4"/>
<line x1="496.5" x2="496.5" y1="1383.4" y2="1393.4"/>
<line x1="1141.4" x2="1141.4" y1="1383.4" y2="1393.4"/>
</g>
<text class="tl" x="93.6" y="1273.7" text-anchor="end">0</text>
<text class="tl" x="93.6" y="1001.7" text-anchor="end">2</text>
<text class="tl" x="93.6" y="729.7" text-anchor="end">4</text>
<text class="tl" x="93.6" y="457.7" text-anchor="end">6</text>
<text class="tl" x="93.6" y="185.7" text-anchor="end">8</text>
<text class="tl" x="496.5" y="1432" text-anchor="middle">Negative</text>
<text class="tl" x="1141.4" y="1432" text-anchor="middle">Positive</text>
<text class="at" x="819" y="1488" text-anchor="middle">Valence</text>
<text class="at" style="letter-spacing:.4px" transform="translate(49,747) rotate(-90)" text-anchor="middle">Intentionality Score</text>
<text class="lt" x="411" y="46">Cognitive Load</text>
<line class="ln" x1="768.3" x2="768.3" y1="6.5" y2="51.9"/>
<rect class="bx" x="746.8" y="15.3" width="43" height="28.1" fill="#E63946"/>
<line class="ln" x1="746.8" x2="789.8" y1="29.3" y2="29.3"/>
<circle cx="768.3" cy="29.5" r="12.3" fill="#000"/>
<text class="ll" x="815.0" y="43.5">high</text>
<line class="ln" x1="937.2" x2="937.2" y1="6.5" y2="51.9"/>
<rect class="bx" x="915.7" y="15.3" width="43" height="28.1" fill="#5B6370"/>
<line class="ln" x1="915.7" x2="958.7" y1="29.3" y2="29.3"/>
<circle cx="937.2" cy="29.5" r="12.3" fill="#000"/>
<text class="ll" x="984.0" y="43.5">low</text>
<line class="ln" x1="1090.6" x2="1090.6" y1="6.5" y2="51.9"/>
<rect class="bx" x="1069.1" y="15.3" width="43" height="28.1" fill="#A3B8E8"/>
<line class="ln" x1="1069.1" x2="1112.1" y1="29.3" y2="29.3"/>
<circle cx="1090.6" cy="29.5" r="12.3" fill="#000"/>
<text class="ll" x="1137.0" y="43.5">none</text>
</svg></body></html>
